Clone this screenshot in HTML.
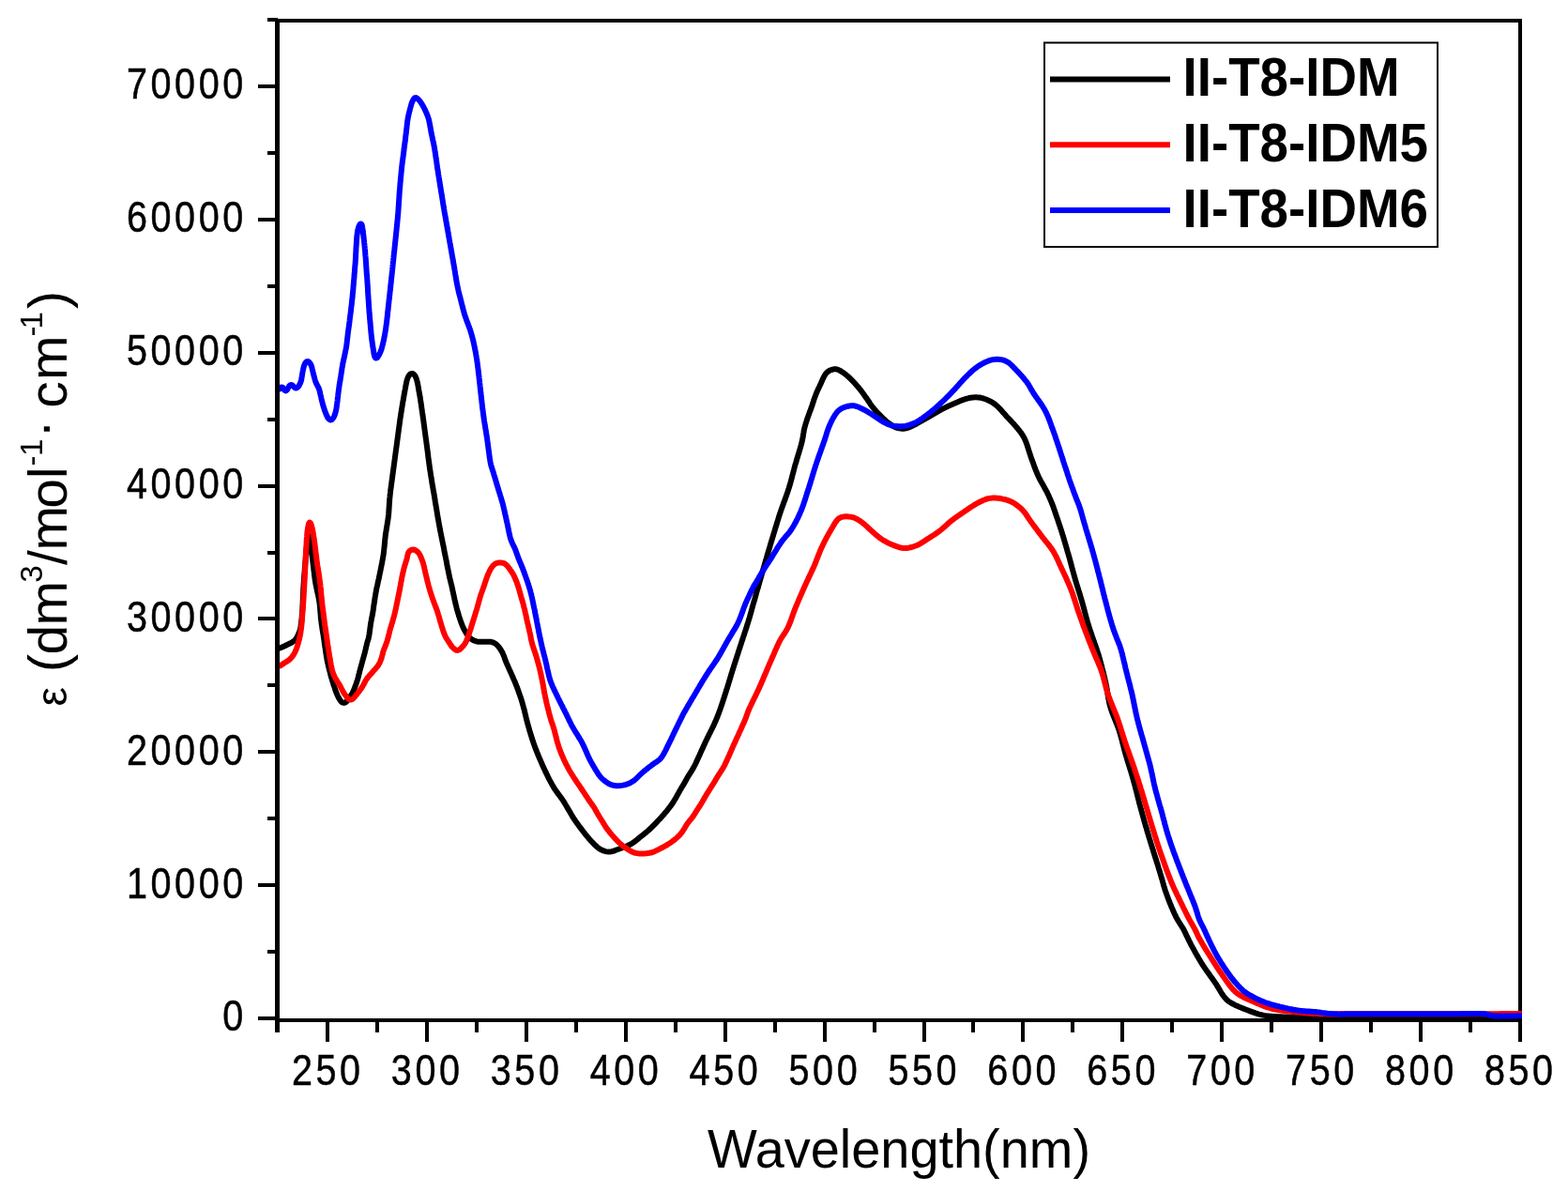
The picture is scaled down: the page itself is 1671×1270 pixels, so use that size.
<!DOCTYPE html>
<html><head><meta charset="utf-8"><style>
html,body{margin:0;padding:0;background:#fff;width:1671px;height:1270px;overflow:hidden}
svg{display:block}
</style></head><body>
<svg width="1671" height="1270" viewBox="0 0 1671 1270">
<rect width="1671" height="1270" fill="#fff"/>
<g fill="#000" shape-rendering="crispEdges">
<rect x="293.2" y="20" width="4.6" height="1079.7"/>
<rect x="293.2" y="20" width="1328.8" height="4"/>
<rect x="1618" y="20" width="4" height="1089.7"/>
<rect x="293.2" y="1085" width="1328.8" height="4.2"/>
<rect x="275.0" y="1083.0" width="20.5" height="4"/>
<rect x="285.0" y="1012.1" width="10.5" height="4"/>
<rect x="275.0" y="941.1" width="20.5" height="4"/>
<rect x="285.0" y="870.2" width="10.5" height="4"/>
<rect x="275.0" y="799.3" width="20.5" height="4"/>
<rect x="285.0" y="728.3" width="10.5" height="4"/>
<rect x="275.0" y="657.4" width="20.5" height="4"/>
<rect x="285.0" y="586.5" width="10.5" height="4"/>
<rect x="275.0" y="515.5" width="20.5" height="4"/>
<rect x="285.0" y="444.6" width="10.5" height="4"/>
<rect x="275.0" y="373.6" width="20.5" height="4"/>
<rect x="285.0" y="302.7" width="10.5" height="4"/>
<rect x="275.0" y="231.8" width="20.5" height="4"/>
<rect x="285.0" y="160.8" width="10.5" height="4"/>
<rect x="275.0" y="89.9" width="20.5" height="4"/>
<rect x="285.0" y="19.0" width="10.5" height="4"/>
<rect x="347.0" y="1087" width="4" height="22.7"/>
<rect x="400.0" y="1087" width="4" height="12.5"/>
<rect x="452.9" y="1087" width="4" height="22.7"/>
<rect x="505.9" y="1087" width="4" height="12.5"/>
<rect x="558.8" y="1087" width="4" height="22.7"/>
<rect x="611.8" y="1087" width="4" height="12.5"/>
<rect x="664.7" y="1087" width="4" height="22.7"/>
<rect x="717.7" y="1087" width="4" height="12.5"/>
<rect x="770.7" y="1087" width="4" height="22.7"/>
<rect x="823.6" y="1087" width="4" height="12.5"/>
<rect x="876.6" y="1087" width="4" height="22.7"/>
<rect x="929.5" y="1087" width="4" height="12.5"/>
<rect x="982.5" y="1087" width="4" height="22.7"/>
<rect x="1035.4" y="1087" width="4" height="12.5"/>
<rect x="1088.4" y="1087" width="4" height="22.7"/>
<rect x="1141.4" y="1087" width="4" height="12.5"/>
<rect x="1194.3" y="1087" width="4" height="22.7"/>
<rect x="1247.3" y="1087" width="4" height="12.5"/>
<rect x="1300.2" y="1087" width="4" height="22.7"/>
<rect x="1353.2" y="1087" width="4" height="12.5"/>
<rect x="1406.2" y="1087" width="4" height="22.7"/>
<rect x="1459.1" y="1087" width="4" height="12.5"/>
<rect x="1512.1" y="1087" width="4" height="22.7"/>
<rect x="1565.0" y="1087" width="4" height="12.5"/>
</g>
<defs><clipPath id="c"><rect x="297.8" y="20" width="1324.2" height="1069"/></clipPath></defs>
<g clip-path="url(#c)" fill="none" stroke-width="6" stroke-linejoin="round" stroke-linecap="butt">
<path stroke="#000" d="M297.2,690.8 298.1,690.5 299.4,690.0 300.8,689.4 302.2,688.9 303.5,688.2 304.9,687.5 306.2,686.8 307.6,686.2 308.9,685.5 310.3,684.9 311.6,684.1 312.8,683.3 314.0,682.4 314.9,681.3 315.8,680.0 316.6,678.8 317.3,677.4 317.9,676.1 318.5,674.7 319.0,673.3 319.5,671.9 319.9,670.4 320.2,669.0 320.5,667.5 320.7,666.0 320.9,664.5 321.1,663.0 321.3,661.5 321.4,660.1 321.6,658.6 321.7,657.1 321.8,655.6 322.0,654.1 322.1,652.6 322.2,651.1 322.3,649.6 322.4,648.1 322.4,646.6 322.5,645.1 322.6,643.6 322.7,642.1 322.7,640.6 322.8,639.1 322.8,637.6 322.9,636.1 323.0,634.6 323.0,633.1 323.1,631.6 323.2,630.1 323.2,628.6 323.3,627.1 323.4,625.6 323.5,624.1 323.6,622.6 323.7,621.1 323.8,619.6 323.9,618.1 324.0,616.6 324.1,615.1 324.2,613.6 324.3,612.1 324.5,610.7 324.6,609.2 324.7,607.7 324.8,606.2 324.9,604.7 325.1,603.2 325.2,601.7 325.3,600.2 325.4,598.7 325.6,597.2 325.7,595.7 325.8,594.2 325.9,592.7 326.1,591.2 326.2,589.7 326.3,588.2 326.5,586.7 326.6,585.2 326.7,583.7 326.9,582.3 327.1,580.8 327.3,579.3 327.5,577.8 327.8,576.3 328.1,574.9 328.4,573.4 328.7,572.0 329.2,571.1 329.7,571.3 330.1,572.3 330.4,573.7 330.6,575.2 330.8,576.7 330.9,578.2 331.1,579.7 331.3,581.2 331.4,582.6 331.6,584.1 331.7,585.6 331.9,587.1 332.1,588.6 332.3,590.1 332.5,591.6 332.7,593.1 332.9,594.6 333.1,596.0 333.3,597.5 333.4,599.0 333.6,600.5 333.8,602.0 334.0,603.5 334.2,605.0 334.3,606.5 334.5,608.0 334.7,609.4 334.9,610.9 335.0,612.4 335.2,613.9 335.4,615.4 335.6,616.9 335.8,618.4 336.1,619.9 336.3,621.3 336.6,622.8 336.9,624.3 337.2,625.8 337.5,627.2 337.8,628.7 338.1,630.2 338.4,631.6 338.8,633.1 339.1,634.5 339.4,636.0 339.7,637.5 339.9,639.0 340.2,640.4 340.4,641.9 340.6,643.4 340.8,644.9 340.9,646.4 341.1,647.9 341.2,649.4 341.3,650.9 341.4,652.4 341.6,653.9 341.7,655.4 341.8,656.9 341.9,658.4 342.1,659.8 342.3,661.3 342.5,662.8 342.6,664.3 342.9,665.8 343.1,667.3 343.3,668.8 343.5,670.2 343.7,671.7 344.0,673.2 344.2,674.7 344.5,676.2 344.7,677.7 344.9,679.1 345.2,680.6 345.4,682.1 345.6,683.6 345.8,685.1 346.0,686.6 346.2,688.0 346.4,689.5 346.7,691.0 346.9,692.5 347.1,694.0 347.3,695.5 347.5,696.9 347.8,698.4 348.0,699.9 348.3,701.4 348.5,702.9 348.8,704.3 349.1,705.8 349.5,707.3 349.8,708.7 350.1,710.2 350.5,711.6 350.8,713.1 351.2,714.6 351.6,716.0 352.0,717.5 352.3,718.9 352.7,720.4 353.1,721.8 353.6,723.2 354.0,724.7 354.4,726.1 354.9,727.5 355.3,729.0 355.8,730.4 356.3,731.8 356.8,733.2 357.2,734.7 357.7,736.1 358.2,737.5 358.8,738.9 359.4,740.3 360.0,741.6 360.7,743.0 361.4,744.3 362.2,745.6 363.0,746.8 364.0,747.9 365.2,748.6 366.5,748.9 367.9,748.6 369.0,747.8 370.0,746.7 370.8,745.4 371.6,744.2 372.5,742.9 373.4,741.7 374.3,740.5 375.1,739.3 375.8,738.0 376.5,736.6 377.1,735.2 377.6,733.8 378.1,732.4 378.6,731.0 379.2,729.6 379.7,728.2 380.2,726.8 380.6,725.4 381.1,723.9 381.5,722.5 381.9,721.0 382.2,719.6 382.6,718.1 383.0,716.7 383.3,715.2 383.7,713.8 384.1,712.3 384.5,710.9 384.9,709.4 385.3,708.0 385.7,706.5 386.1,705.1 386.5,703.6 386.9,702.2 387.3,700.8 387.7,699.3 388.1,697.9 388.5,696.4 388.9,695.0 389.2,693.5 389.6,692.0 389.9,690.6 390.2,689.1 390.6,687.7 390.9,686.2 391.3,684.8 391.7,683.3 392.2,681.9 392.6,680.4 392.9,679.0 393.2,677.5 393.5,676.0 393.7,674.5 393.9,673.1 394.1,671.6 394.3,670.1 394.5,668.6 394.7,667.1 394.9,665.6 395.1,664.1 395.4,662.7 395.7,661.2 395.9,659.7 396.2,658.2 396.5,656.8 396.8,655.3 397.1,653.8 397.3,652.3 397.6,650.9 397.8,649.4 398.0,647.9 398.2,646.4 398.4,644.9 398.6,643.4 398.9,642.0 399.1,640.5 399.3,639.0 399.5,637.5 399.7,636.0 400.0,634.5 400.2,633.1 400.5,631.6 400.8,630.1 401.0,628.6 401.3,627.2 401.6,625.7 402.0,624.2 402.3,622.8 402.6,621.3 402.9,619.8 403.2,618.4 403.6,616.9 403.9,615.4 404.2,614.0 404.5,612.5 404.8,611.0 405.1,609.6 405.4,608.1 405.7,606.6 406.0,605.2 406.3,603.7 406.6,602.2 406.9,600.7 407.2,599.3 407.4,597.8 407.7,596.3 408.0,594.8 408.2,593.4 408.5,591.9 408.7,590.4 408.9,588.9 409.1,587.4 409.2,585.9 409.4,584.4 409.5,583.0 409.7,581.5 409.8,580.0 410.0,578.5 410.1,577.0 410.2,575.5 410.4,574.0 410.6,572.5 410.7,571.0 410.9,569.5 411.1,568.0 411.4,566.6 411.6,565.1 411.8,563.6 412.1,562.1 412.3,560.6 412.6,559.2 412.8,557.7 413.0,556.2 413.3,554.7 413.5,553.2 413.7,551.7 413.9,550.2 414.0,548.8 414.2,547.3 414.3,545.8 414.4,544.3 414.5,542.8 414.6,541.3 414.7,539.8 414.8,538.3 414.9,536.8 415.0,535.3 415.1,533.8 415.2,532.3 415.3,530.8 415.5,529.3 415.6,527.8 415.8,526.3 416.0,524.8 416.1,523.3 416.3,521.9 416.5,520.4 416.7,518.9 416.9,517.4 417.1,515.9 417.3,514.4 417.5,512.9 417.7,511.5 417.9,510.0 418.1,508.5 418.3,507.0 418.5,505.5 418.7,504.0 418.9,502.5 419.1,501.1 419.3,499.6 419.5,498.1 419.7,496.6 419.9,495.1 420.1,493.6 420.3,492.1 420.5,490.6 420.7,489.2 420.9,487.7 421.1,486.2 421.3,484.7 421.5,483.2 421.7,481.7 421.9,480.2 422.1,478.8 422.3,477.3 422.5,475.8 422.7,474.3 422.9,472.8 423.1,471.3 423.3,469.8 423.5,468.3 423.7,466.9 423.9,465.4 424.1,463.9 424.3,462.4 424.5,460.9 424.7,459.4 424.9,457.9 425.1,456.4 425.3,455.0 425.5,453.5 425.7,452.0 425.9,450.5 426.1,449.0 426.3,447.5 426.5,446.0 426.7,444.6 427.0,443.1 427.2,441.6 427.4,440.1 427.7,438.6 427.9,437.2 428.1,435.7 428.4,434.2 428.6,432.7 428.9,431.2 429.1,429.7 429.3,428.3 429.6,426.8 429.9,425.3 430.1,423.8 430.4,422.4 430.6,420.9 430.9,419.4 431.2,417.9 431.4,416.5 431.7,415.0 432.0,413.5 432.2,412.0 432.5,410.6 432.8,409.1 433.1,407.6 433.4,406.1 433.8,404.7 434.3,403.3 434.8,401.9 435.5,400.6 436.4,399.4 437.4,398.4 438.7,398.0 440.0,398.1 441.1,398.9 442.1,400.0 442.8,401.3 443.4,402.7 443.9,404.1 444.3,405.5 444.7,407.0 445.0,408.4 445.3,409.9 445.6,411.4 445.8,412.8 446.1,414.3 446.3,415.8 446.6,417.3 446.9,418.8 447.1,420.2 447.4,421.7 447.6,423.2 447.9,424.7 448.1,426.2 448.3,427.6 448.5,429.1 448.8,430.6 449.0,432.1 449.2,433.6 449.4,435.1 449.6,436.5 449.8,438.0 450.0,439.5 450.3,441.0 450.5,442.5 450.7,444.0 450.9,445.5 451.1,446.9 451.3,448.4 451.5,449.9 451.7,451.4 451.9,452.9 452.1,454.4 452.3,455.9 452.5,457.3 452.7,458.8 452.9,460.3 453.1,461.8 453.3,463.3 453.5,464.8 453.7,466.3 453.9,467.8 454.1,469.2 454.3,470.7 454.5,472.2 454.7,473.7 454.9,475.2 455.1,476.7 455.3,478.2 455.5,479.6 455.7,481.1 455.9,482.6 456.1,484.1 456.2,485.6 456.4,487.1 456.6,488.6 456.8,490.1 457.0,491.5 457.2,493.0 457.4,494.5 457.6,496.0 457.8,497.5 458.0,499.0 458.2,500.5 458.5,501.9 458.7,503.4 458.9,504.9 459.1,506.4 459.4,507.9 459.6,509.4 459.9,510.8 460.1,512.3 460.3,513.8 460.6,515.3 460.8,516.8 461.1,518.2 461.3,519.7 461.6,521.2 461.8,522.7 462.1,524.2 462.4,525.6 462.6,527.1 462.9,528.6 463.1,530.1 463.4,531.5 463.6,533.0 463.8,534.5 464.1,536.0 464.3,537.5 464.6,538.9 464.8,540.4 465.1,541.9 465.3,543.4 465.6,544.9 465.8,546.3 466.0,547.8 466.3,549.3 466.5,550.8 466.8,552.3 467.1,553.7 467.3,555.2 467.6,556.7 467.8,558.2 468.1,559.6 468.4,561.1 468.7,562.6 468.9,564.1 469.2,565.5 469.5,567.0 469.8,568.5 470.1,570.0 470.4,571.4 470.7,572.9 471.0,574.4 471.3,575.8 471.6,577.3 471.9,578.8 472.2,580.3 472.5,581.7 472.8,583.2 473.1,584.7 473.3,586.1 473.6,587.6 473.9,589.1 474.2,590.5 474.5,592.0 474.8,593.5 475.1,595.0 475.4,596.4 475.7,597.9 476.0,599.4 476.2,600.8 476.5,602.3 476.8,603.8 477.1,605.3 477.4,606.7 477.7,608.2 478.0,609.7 478.3,611.1 478.6,612.6 478.9,614.1 479.2,615.5 479.6,617.0 479.9,618.5 480.3,619.9 480.6,621.4 481.0,622.8 481.4,624.3 481.7,625.8 482.0,627.2 482.3,628.7 482.6,630.2 482.9,631.6 483.3,633.1 483.6,634.6 483.9,636.0 484.2,637.5 484.5,639.0 484.9,640.4 485.2,641.9 485.5,643.3 485.9,644.8 486.3,646.3 486.6,647.7 487.0,649.2 487.4,650.6 487.8,652.0 488.3,653.5 488.7,654.9 489.1,656.4 489.6,657.8 490.0,659.2 490.5,660.6 491.0,662.0 491.5,663.5 492.1,664.9 492.6,666.2 493.2,667.6 493.8,669.0 494.5,670.3 495.2,671.7 495.9,673.0 496.7,674.3 497.5,675.5 498.3,676.8 499.2,678.0 500.2,679.1 501.3,680.1 502.5,681.0 503.7,681.8 505.1,682.5 506.5,683.0 507.9,683.4 509.4,683.7 510.9,683.8 512.4,683.8 513.9,683.8 515.3,683.8 516.8,683.8 518.3,683.8 519.8,683.7 521.3,683.7 522.8,683.8 524.3,684.1 525.7,684.6 527.0,685.2 528.3,686.0 529.4,687.0 530.5,688.1 531.5,689.2 532.4,690.4 533.2,691.6 534.0,692.9 534.8,694.2 535.5,695.5 536.1,696.9 536.7,698.2 537.2,699.6 537.7,701.0 538.2,702.5 538.8,703.9 539.3,705.3 539.9,706.7 540.5,708.0 541.1,709.4 541.7,710.8 542.3,712.1 542.9,713.5 543.6,714.9 544.2,716.2 544.8,717.6 545.4,719.0 546.0,720.3 546.6,721.7 547.2,723.1 547.8,724.5 548.4,725.8 549.0,727.2 549.5,728.6 550.1,730.0 550.6,731.4 551.2,732.8 551.7,734.2 552.2,735.6 552.7,737.0 553.2,738.4 553.7,739.9 554.2,741.3 554.7,742.7 555.2,744.1 555.6,745.6 556.1,747.0 556.5,748.4 556.9,749.9 557.3,751.3 557.7,752.7 558.1,754.2 558.5,755.6 558.9,757.1 559.2,758.6 559.6,760.0 559.9,761.5 560.3,762.9 560.6,764.4 561.0,765.9 561.3,767.3 561.7,768.8 562.1,770.2 562.5,771.7 562.9,773.1 563.3,774.5 563.7,776.0 564.1,777.4 564.5,778.9 565.0,780.3 565.4,781.7 565.8,783.2 566.3,784.6 566.7,786.0 567.2,787.5 567.7,788.9 568.1,790.3 568.6,791.7 569.1,793.1 569.6,794.6 570.2,796.0 570.7,797.4 571.2,798.8 571.8,800.2 572.3,801.6 572.9,803.0 573.4,804.3 574.0,805.7 574.6,807.1 575.2,808.5 575.8,809.9 576.4,811.3 577.0,812.6 577.6,814.0 578.2,815.4 578.8,816.7 579.4,818.1 580.1,819.5 580.7,820.8 581.3,822.2 582.0,823.5 582.6,824.9 583.3,826.2 583.9,827.6 584.6,828.9 585.3,830.3 586.0,831.6 586.7,832.9 587.4,834.2 588.1,835.5 588.9,836.8 589.6,838.1 590.4,839.4 591.2,840.7 592.1,841.9 592.9,843.1 593.8,844.4 594.7,845.6 595.6,846.8 596.5,848.0 597.4,849.2 598.3,850.4 599.1,851.6 600.0,852.9 600.8,854.1 601.6,855.4 602.3,856.7 603.1,858.0 603.9,859.3 604.6,860.6 605.4,861.9 606.1,863.2 606.9,864.4 607.7,865.7 608.4,867.0 609.2,868.3 609.9,869.6 610.7,870.9 611.5,872.2 612.4,873.4 613.2,874.6 614.1,875.9 614.9,877.1 615.8,878.3 616.7,879.5 617.6,880.7 618.5,881.9 619.4,883.1 620.3,884.3 621.2,885.5 622.1,886.7 623.1,887.9 624.0,889.1 624.9,890.2 625.9,891.4 626.9,892.5 627.8,893.7 628.8,894.8 629.8,895.9 630.9,897.0 631.9,898.1 632.9,899.2 634.0,900.2 635.1,901.3 636.2,902.3 637.3,903.2 638.5,904.1 639.8,904.9 641.1,905.6 642.5,906.2 643.9,906.7 645.4,907.1 646.8,907.4 648.3,907.6 649.8,907.6 651.3,907.4 652.7,907.0 654.1,906.6 655.5,906.1 656.9,905.5 658.4,905.0 659.8,904.5 661.2,904.0 662.6,903.5 664.0,903.0 665.4,902.4 666.8,901.9 668.2,901.3 669.5,900.7 670.9,900.0 672.2,899.3 673.5,898.6 674.8,897.8 676.0,896.9 677.2,896.0 678.4,895.1 679.5,894.1 680.7,893.1 681.8,892.2 683.0,891.3 684.2,890.3 685.4,889.4 686.5,888.5 687.7,887.5 688.9,886.6 690.0,885.6 691.1,884.6 692.3,883.6 693.3,882.6 694.4,881.5 695.5,880.5 696.5,879.4 697.6,878.3 698.6,877.3 699.7,876.2 700.7,875.1 701.7,874.0 702.8,872.9 703.8,871.8 704.8,870.7 705.8,869.6 706.8,868.5 707.8,867.3 708.7,866.2 709.7,865.1 710.7,863.9 711.6,862.7 712.5,861.5 713.4,860.4 714.4,859.2 715.2,858.0 716.1,856.7 716.9,855.5 717.8,854.2 718.5,852.9 719.3,851.7 720.1,850.4 720.8,849.1 721.5,847.7 722.3,846.4 723.0,845.1 723.7,843.8 724.4,842.5 725.2,841.2 726.0,839.9 726.7,838.6 727.5,837.4 728.3,836.1 729.1,834.8 729.8,833.5 730.5,832.2 731.3,830.9 732.0,829.5 732.7,828.2 733.5,826.9 734.3,825.7 735.1,824.4 735.9,823.1 736.7,821.9 737.5,820.6 738.3,819.3 739.0,818.0 739.7,816.7 740.4,815.4 741.1,814.0 741.7,812.7 742.3,811.3 743.0,809.9 743.6,808.6 744.2,807.2 744.8,805.9 745.5,804.5 746.1,803.1 746.7,801.8 747.3,800.4 747.9,799.0 748.6,797.7 749.2,796.3 749.8,794.9 750.4,793.6 751.1,792.2 751.7,790.8 752.3,789.5 753.0,788.1 753.6,786.8 754.3,785.4 755.0,784.1 755.6,782.7 756.3,781.4 757.0,780.1 757.6,778.7 758.3,777.4 759.0,776.0 759.6,774.7 760.3,773.3 760.9,772.0 761.5,770.6 762.1,769.2 762.8,767.9 763.3,766.5 763.9,765.1 764.5,763.7 765.0,762.3 765.6,760.9 766.1,759.5 766.6,758.1 767.1,756.7 767.6,755.3 768.1,753.9 768.6,752.4 769.1,751.0 769.6,749.6 770.0,748.2 770.5,746.8 771.0,745.3 771.4,743.9 771.9,742.5 772.4,741.0 772.8,739.6 773.3,738.2 773.7,736.8 774.2,735.3 774.6,733.9 775.1,732.5 775.5,731.0 776.0,729.6 776.4,728.2 776.8,726.7 777.3,725.3 777.7,723.9 778.1,722.4 778.6,721.0 779.0,719.6 779.4,718.1 779.9,716.7 780.3,715.2 780.8,713.8 781.2,712.4 781.7,711.0 782.1,709.5 782.6,708.1 783.0,706.7 783.5,705.2 784.0,703.8 784.4,702.4 784.9,701.0 785.3,699.5 785.8,698.1 786.3,696.7 786.7,695.2 787.2,693.8 787.6,692.4 788.1,691.0 788.6,689.5 789.0,688.1 789.5,686.7 790.0,685.3 790.4,683.8 790.9,682.4 791.4,681.0 791.8,679.6 792.3,678.1 792.8,676.7 793.3,675.3 793.7,673.9 794.2,672.4 794.7,671.0 795.1,669.6 795.6,668.2 796.0,666.7 796.5,665.3 796.9,663.9 797.4,662.4 797.8,661.0 798.2,659.6 798.7,658.1 799.1,656.7 799.5,655.2 799.9,653.8 800.3,652.4 800.7,650.9 801.1,649.5 801.5,648.0 801.9,646.6 802.3,645.1 802.7,643.7 803.1,642.2 803.6,640.8 804.0,639.4 804.4,637.9 804.8,636.5 805.2,635.0 805.6,633.6 806.0,632.1 806.4,630.7 806.8,629.3 807.2,627.8 807.7,626.4 808.1,624.9 808.5,623.5 808.9,622.0 809.3,620.6 809.7,619.2 810.1,617.7 810.6,616.3 811.0,614.8 811.4,613.4 811.8,612.0 812.2,610.5 812.6,609.1 813.0,607.6 813.4,606.2 813.9,604.7 814.3,603.3 814.7,601.9 815.1,600.4 815.5,599.0 816.0,597.5 816.4,596.1 816.8,594.7 817.2,593.2 817.6,591.8 818.1,590.3 818.5,588.9 818.9,587.5 819.3,586.0 819.8,584.6 820.2,583.2 820.6,581.7 821.0,580.3 821.5,578.8 821.9,577.4 822.3,576.0 822.8,574.5 823.2,573.1 823.6,571.7 824.1,570.2 824.5,568.8 824.9,567.4 825.4,565.9 825.8,564.5 826.2,563.0 826.7,561.6 827.1,560.2 827.6,558.7 828.0,557.3 828.4,555.9 828.9,554.4 829.3,553.0 829.8,551.6 830.2,550.1 830.7,548.7 831.1,547.3 831.6,545.9 832.1,544.4 832.6,543.0 833.1,541.6 833.6,540.2 834.1,538.8 834.6,537.4 835.1,536.0 835.6,534.6 836.2,533.2 836.7,531.7 837.2,530.3 837.7,528.9 838.2,527.5 838.7,526.1 839.2,524.7 839.7,523.3 840.1,521.8 840.6,520.4 841.0,519.0 841.5,517.5 841.9,516.1 842.3,514.7 842.7,513.2 843.1,511.8 843.5,510.3 843.9,508.9 844.2,507.4 844.6,506.0 845.0,504.5 845.4,503.1 845.8,501.6 846.2,500.2 846.5,498.7 846.9,497.3 847.3,495.8 847.7,494.4 848.2,492.9 848.6,491.5 849.0,490.1 849.4,488.6 849.9,487.2 850.3,485.7 850.7,484.3 851.2,482.9 851.6,481.4 852.0,480.0 852.5,478.6 852.9,477.1 853.3,475.7 853.7,474.2 854.1,472.8 854.5,471.3 854.8,469.9 855.1,468.4 855.4,466.9 855.7,465.5 855.9,464.0 856.1,462.5 856.4,461.0 856.6,459.5 856.9,458.1 857.2,456.6 857.6,455.1 858.0,453.7 858.4,452.3 858.8,450.8 859.3,449.4 859.7,448.0 860.2,446.5 860.7,445.1 861.2,443.7 861.7,442.3 862.2,440.9 862.7,439.5 863.2,438.1 863.8,436.7 864.3,435.2 864.8,433.8 865.3,432.4 865.8,431.0 866.2,429.6 866.7,428.2 867.2,426.7 867.6,425.3 868.1,423.9 868.6,422.5 869.2,421.1 869.7,419.7 870.3,418.3 870.9,416.9 871.5,415.5 872.1,414.2 872.8,412.8 873.4,411.5 874.0,410.1 874.7,408.8 875.3,407.4 875.9,406.0 876.5,404.6 877.1,403.3 877.8,401.9 878.5,400.6 879.2,399.3 880.1,398.1 881.1,397.0 882.2,396.0 883.4,395.2 884.7,394.5 886.1,394.0 887.6,393.6 889.1,393.3 890.5,393.3 892.0,393.5 893.4,394.0 894.7,394.6 896.0,395.4 897.3,396.2 898.5,397.0 899.8,397.9 901.0,398.8 902.1,399.7 903.3,400.7 904.4,401.7 905.5,402.7 906.6,403.8 907.6,404.8 908.7,405.9 909.7,407.0 910.7,408.1 911.7,409.2 912.7,410.3 913.7,411.5 914.7,412.6 915.6,413.8 916.6,414.9 917.5,416.1 918.4,417.3 919.3,418.5 920.2,419.7 921.0,420.9 921.9,422.2 922.8,423.4 923.7,424.6 924.5,425.8 925.3,427.1 926.2,428.3 927.0,429.6 927.8,430.8 928.7,432.1 929.6,433.3 930.5,434.4 931.5,435.6 932.5,436.7 933.5,437.9 934.5,439.0 935.5,440.0 936.5,441.1 937.6,442.2 938.7,443.3 939.7,444.3 940.8,445.4 941.9,446.4 943.0,447.4 944.1,448.4 945.2,449.4 946.4,450.3 947.6,451.2 948.8,452.1 950.1,452.9 951.3,453.7 952.7,454.4 954.0,455.1 955.4,455.6 956.9,456.0 958.3,456.4 959.8,456.6 961.3,456.7 962.8,456.7 964.3,456.5 965.7,456.3 967.2,455.9 968.6,455.4 970.0,454.8 971.3,454.2 972.7,453.6 974.0,452.9 975.3,452.2 976.7,451.5 978.0,450.7 979.3,450.0 980.6,449.2 981.9,448.5 983.2,447.8 984.5,447.0 985.8,446.3 987.1,445.6 988.4,444.9 989.7,444.1 991.0,443.4 992.3,442.6 993.6,441.8 994.9,441.1 996.2,440.3 997.5,439.6 998.8,438.8 1000.1,438.1 1001.4,437.3 1002.7,436.6 1004.1,435.9 1005.4,435.2 1006.7,434.6 1008.1,433.9 1009.4,433.3 1010.8,432.6 1012.2,432.0 1013.5,431.4 1014.9,430.8 1016.3,430.2 1017.7,429.6 1019.0,429.0 1020.4,428.4 1021.8,427.8 1023.2,427.2 1024.6,426.7 1026.0,426.1 1027.4,425.6 1028.8,425.2 1030.2,424.7 1031.7,424.4 1033.1,424.0 1034.6,423.7 1036.1,423.5 1037.6,423.4 1039.1,423.3 1040.6,423.3 1042.1,423.4 1043.6,423.5 1045.0,423.8 1046.5,424.1 1048.0,424.5 1049.4,425.0 1050.8,425.5 1052.2,426.1 1053.5,426.7 1054.9,427.3 1056.2,428.0 1057.5,428.8 1058.8,429.6 1060.0,430.5 1061.2,431.4 1062.3,432.4 1063.4,433.4 1064.5,434.4 1065.5,435.5 1066.5,436.6 1067.5,437.7 1068.5,438.9 1069.5,440.0 1070.5,441.1 1071.5,442.2 1072.5,443.4 1073.5,444.5 1074.5,445.5 1075.6,446.6 1076.6,447.7 1077.6,448.8 1078.6,449.9 1079.7,451.0 1080.7,452.1 1081.7,453.3 1082.7,454.4 1083.6,455.5 1084.6,456.7 1085.5,457.8 1086.5,459.0 1087.4,460.2 1088.3,461.4 1089.1,462.6 1089.9,463.9 1090.7,465.2 1091.4,466.5 1092.1,467.9 1092.7,469.2 1093.2,470.6 1093.8,472.0 1094.3,473.4 1094.8,474.9 1095.2,476.3 1095.7,477.7 1096.1,479.1 1096.6,480.6 1097.0,482.0 1097.5,483.4 1098.0,484.9 1098.4,486.3 1098.9,487.7 1099.4,489.1 1099.9,490.5 1100.5,491.9 1101.0,493.3 1101.5,494.7 1102.0,496.2 1102.5,497.6 1103.0,499.0 1103.6,500.4 1104.1,501.8 1104.7,503.1 1105.3,504.5 1105.9,505.9 1106.5,507.3 1107.1,508.6 1107.8,510.0 1108.5,511.3 1109.2,512.6 1109.9,513.9 1110.7,515.2 1111.4,516.5 1112.2,517.8 1112.9,519.2 1113.6,520.5 1114.3,521.8 1115.1,523.1 1115.8,524.4 1116.4,525.8 1117.1,527.1 1117.7,528.5 1118.3,529.9 1118.9,531.2 1119.5,532.6 1120.1,534.0 1120.7,535.4 1121.2,536.8 1121.8,538.2 1122.3,539.6 1122.8,541.0 1123.3,542.4 1123.8,543.8 1124.3,545.2 1124.7,546.7 1125.2,548.1 1125.7,549.5 1126.2,550.9 1126.7,552.3 1127.2,553.7 1127.7,555.2 1128.1,556.6 1128.6,558.0 1129.1,559.4 1129.6,560.8 1130.0,562.3 1130.5,563.7 1131.0,565.1 1131.4,566.6 1131.9,568.0 1132.3,569.4 1132.8,570.9 1133.2,572.3 1133.6,573.7 1134.1,575.2 1134.5,576.6 1134.9,578.0 1135.3,579.5 1135.8,580.9 1136.2,582.4 1136.6,583.8 1137.0,585.2 1137.4,586.7 1137.8,588.1 1138.3,589.6 1138.7,591.0 1139.1,592.5 1139.5,593.9 1139.9,595.3 1140.3,596.8 1140.7,598.2 1141.1,599.7 1141.4,601.1 1141.8,602.6 1142.2,604.0 1142.6,605.5 1143.0,606.9 1143.4,608.4 1143.8,609.8 1144.2,611.3 1144.6,612.7 1145.0,614.2 1145.4,615.6 1145.8,617.0 1146.2,618.5 1146.7,619.9 1147.1,621.4 1147.5,622.8 1148.0,624.2 1148.4,625.7 1148.9,627.1 1149.3,628.5 1149.7,630.0 1150.2,631.4 1150.6,632.8 1151.1,634.3 1151.5,635.7 1151.9,637.1 1152.3,638.6 1152.8,640.0 1153.2,641.5 1153.6,642.9 1154.0,644.3 1154.4,645.8 1154.8,647.2 1155.2,648.7 1155.5,650.1 1155.9,651.6 1156.3,653.0 1156.7,654.5 1157.1,655.9 1157.5,657.4 1157.9,658.8 1158.3,660.3 1158.7,661.7 1159.1,663.2 1159.5,664.6 1160.0,666.0 1160.4,667.5 1160.9,668.9 1161.3,670.3 1161.8,671.7 1162.3,673.2 1162.8,674.6 1163.3,676.0 1163.7,677.4 1164.2,678.8 1164.7,680.3 1165.2,681.7 1165.7,683.1 1166.2,684.5 1166.7,685.9 1167.2,687.3 1167.7,688.7 1168.2,690.2 1168.7,691.6 1169.1,693.0 1169.6,694.4 1170.1,695.9 1170.5,697.3 1171.0,698.7 1171.4,700.2 1171.8,701.6 1172.2,703.1 1172.6,704.5 1173.0,705.9 1173.4,707.4 1173.8,708.8 1174.2,710.3 1174.5,711.7 1174.9,713.2 1175.3,714.7 1175.6,716.1 1176.0,717.6 1176.4,719.0 1176.7,720.5 1177.1,721.9 1177.4,723.4 1177.7,724.9 1178.1,726.3 1178.4,727.8 1178.7,729.3 1179.0,730.7 1179.3,732.2 1179.5,733.7 1179.8,735.2 1180.0,736.6 1180.3,738.1 1180.5,739.6 1180.7,741.1 1181.0,742.6 1181.2,744.0 1181.5,745.5 1181.8,747.0 1182.1,748.5 1182.4,749.9 1182.8,751.4 1183.2,752.8 1183.6,754.3 1184.0,755.7 1184.5,757.1 1185.0,758.5 1185.5,759.9 1186.1,761.3 1186.6,762.7 1187.2,764.1 1187.7,765.5 1188.3,766.9 1188.9,768.3 1189.4,769.7 1190.0,771.1 1190.5,772.5 1191.1,773.9 1191.6,775.3 1192.1,776.7 1192.6,778.1 1193.0,779.6 1193.5,781.0 1193.9,782.4 1194.3,783.9 1194.7,785.3 1195.1,786.8 1195.5,788.2 1195.9,789.7 1196.2,791.1 1196.6,792.6 1197.0,794.0 1197.4,795.5 1197.7,796.9 1198.1,798.4 1198.5,799.8 1198.9,801.3 1199.3,802.7 1199.7,804.2 1200.1,805.6 1200.6,807.0 1201.0,808.5 1201.4,809.9 1201.9,811.3 1202.3,812.8 1202.8,814.2 1203.2,815.6 1203.7,817.1 1204.1,818.5 1204.5,819.9 1205.0,821.4 1205.4,822.8 1205.9,824.2 1206.3,825.7 1206.7,827.1 1207.1,828.6 1207.5,830.0 1207.9,831.4 1208.3,832.9 1208.7,834.3 1209.1,835.8 1209.5,837.2 1209.9,838.7 1210.2,840.1 1210.6,841.6 1211.0,843.1 1211.4,844.5 1211.7,846.0 1212.1,847.4 1212.5,848.9 1212.8,850.3 1213.2,851.8 1213.6,853.2 1213.9,854.7 1214.3,856.1 1214.7,857.6 1215.1,859.0 1215.5,860.5 1215.9,861.9 1216.3,863.4 1216.7,864.8 1217.1,866.3 1217.5,867.7 1217.9,869.2 1218.3,870.6 1218.7,872.0 1219.1,873.5 1219.5,874.9 1219.9,876.4 1220.3,877.8 1220.7,879.3 1221.1,880.7 1221.6,882.1 1222.0,883.6 1222.4,885.0 1222.8,886.5 1223.3,887.9 1223.7,889.3 1224.1,890.8 1224.6,892.2 1225.0,893.6 1225.5,895.1 1225.9,896.5 1226.3,897.9 1226.8,899.4 1227.2,900.8 1227.7,902.2 1228.1,903.7 1228.6,905.1 1229.0,906.5 1229.4,908.0 1229.9,909.4 1230.3,910.8 1230.8,912.3 1231.2,913.7 1231.7,915.1 1232.2,916.5 1232.6,918.0 1233.1,919.4 1233.5,920.8 1234.0,922.3 1234.4,923.7 1234.8,925.1 1235.3,926.6 1235.7,928.0 1236.2,929.4 1236.6,930.9 1237.0,932.3 1237.4,933.8 1237.8,935.2 1238.3,936.6 1238.7,938.1 1239.1,939.5 1239.5,941.0 1239.9,942.4 1240.3,943.9 1240.7,945.3 1241.2,946.7 1241.6,948.2 1242.1,949.6 1242.6,951.0 1243.1,952.4 1243.6,953.8 1244.1,955.2 1244.6,956.6 1245.1,958.0 1245.7,959.4 1246.2,960.8 1246.8,962.2 1247.4,963.6 1247.9,965.0 1248.5,966.4 1249.1,967.8 1249.7,969.1 1250.3,970.5 1250.9,971.9 1251.5,973.3 1252.2,974.6 1252.8,976.0 1253.5,977.3 1254.2,978.6 1254.9,979.9 1255.7,981.2 1256.5,982.5 1257.3,983.8 1258.1,985.0 1258.9,986.3 1259.7,987.5 1260.5,988.8 1261.3,990.1 1262.0,991.5 1262.6,992.8 1263.3,994.2 1263.9,995.5 1264.5,996.9 1265.2,998.2 1265.9,999.6 1266.5,1000.9 1267.2,1002.3 1267.9,1003.6 1268.5,1004.9 1269.2,1006.3 1269.9,1007.6 1270.6,1008.9 1271.3,1010.2 1272.1,1011.6 1272.8,1012.9 1273.5,1014.2 1274.2,1015.5 1275.0,1016.8 1275.7,1018.1 1276.5,1019.4 1277.2,1020.7 1278.0,1022.0 1278.8,1023.3 1279.5,1024.6 1280.3,1025.8 1281.1,1027.1 1281.9,1028.4 1282.7,1029.6 1283.6,1030.9 1284.4,1032.1 1285.3,1033.4 1286.1,1034.6 1287.0,1035.8 1287.9,1037.0 1288.7,1038.2 1289.6,1039.5 1290.5,1040.7 1291.4,1041.9 1292.2,1043.1 1293.1,1044.3 1294.0,1045.6 1294.8,1046.8 1295.7,1048.0 1296.5,1049.3 1297.3,1050.6 1298.1,1051.9 1298.8,1053.1 1299.6,1054.4 1300.3,1055.7 1301.1,1057.0 1301.9,1058.3 1302.7,1059.5 1303.6,1060.8 1304.5,1062.0 1305.4,1063.1 1306.4,1064.2 1307.5,1065.3 1308.6,1066.3 1309.8,1067.2 1311.1,1068.0 1312.3,1068.8 1313.7,1069.5 1315.0,1070.2 1316.3,1070.9 1317.7,1071.5 1319.1,1072.1 1320.5,1072.7 1321.8,1073.2 1323.2,1073.8 1324.6,1074.3 1326.0,1074.9 1327.4,1075.5 1328.8,1076.0 1330.2,1076.6 1331.6,1077.2 1333.0,1077.7 1334.4,1078.2 1335.8,1078.7 1337.2,1079.2 1338.6,1079.7 1340.1,1080.1 1341.5,1080.6 1343.0,1080.9 1344.4,1081.3 1345.9,1081.6 1347.4,1081.9 1348.8,1082.1 1350.3,1082.4 1351.8,1082.5 1353.3,1082.7 1354.8,1082.8 1356.3,1082.9 1357.8,1083.0 1359.3,1083.1 1360.8,1083.2 1362.3,1083.2 1363.8,1083.3 1365.3,1083.3 1366.8,1083.4 1368.3,1083.4 1369.8,1083.5 1371.3,1083.6 1372.8,1083.6 1374.3,1083.7 1375.8,1083.7 1377.3,1083.7 1378.8,1083.8 1380.3,1083.8 1381.8,1083.8 1383.3,1083.9 1384.8,1083.9 1386.3,1083.9 1387.8,1083.9 1389.3,1083.9 1390.8,1083.9 1392.3,1083.9 1393.8,1084.0 1395.3,1084.0 1396.8,1084.0 1398.3,1084.0 1399.8,1084.0 1401.3,1084.0 1402.8,1084.0 1404.3,1084.0 1405.8,1084.0 1407.3,1084.0 1408.8,1084.0 1410.3,1084.0 1411.8,1084.1 1413.3,1084.1 1414.8,1084.1 1416.3,1084.1 1417.8,1084.1 1419.3,1084.1 1420.8,1084.1 1422.3,1084.0 1423.8,1084.0 1425.3,1084.0 1426.8,1084.0 1428.3,1084.0 1429.8,1084.0 1431.3,1084.0 1432.8,1084.0 1434.3,1084.0 1435.8,1084.0 1437.3,1084.0 1438.8,1084.0 1440.3,1084.0 1441.8,1084.0 1443.3,1084.0 1444.8,1084.0 1446.3,1084.0 1447.8,1084.0 1449.3,1084.0 1450.8,1084.0 1452.3,1084.0 1453.8,1084.0 1455.3,1084.0 1456.8,1084.0 1458.3,1084.0 1459.8,1084.0 1461.3,1084.0 1462.8,1084.0 1464.3,1084.0 1465.8,1084.0 1467.3,1084.0 1468.8,1084.0 1470.3,1084.0 1471.8,1084.0 1473.3,1084.0 1474.8,1084.0 1476.3,1084.0 1477.8,1084.0 1479.3,1084.0 1480.8,1084.0 1482.3,1084.0 1483.8,1084.0 1485.3,1084.0 1486.8,1084.0 1488.3,1084.0 1489.8,1084.0 1491.3,1084.0 1492.8,1084.0 1494.3,1084.0 1495.8,1084.0 1497.3,1084.0 1498.8,1084.0 1500.3,1084.0 1501.8,1084.0 1503.3,1084.0 1504.8,1084.0 1506.3,1084.0 1507.8,1084.0 1509.3,1084.0 1510.8,1084.0 1512.3,1084.0 1513.8,1084.0 1515.3,1084.0 1516.8,1084.0 1518.3,1084.0 1519.8,1084.0 1521.3,1084.0 1522.8,1084.0 1524.3,1084.0 1525.8,1084.0 1527.3,1084.0 1528.8,1084.0 1530.3,1084.0 1531.8,1084.0 1533.3,1084.0 1534.8,1084.0 1536.3,1084.0 1537.8,1084.0 1539.3,1084.0 1540.8,1084.0 1542.3,1084.0 1543.8,1084.0 1545.3,1084.0 1546.8,1084.0 1548.3,1084.0 1549.8,1084.0 1551.3,1084.0 1552.8,1084.0 1554.3,1084.0 1555.8,1084.0 1557.3,1084.0 1558.8,1084.0 1560.3,1084.0 1561.8,1084.0 1563.3,1084.0 1564.8,1084.0 1566.3,1084.0 1567.8,1084.0 1569.3,1084.0 1570.8,1084.0 1572.3,1084.0 1573.8,1084.0 1575.3,1084.0 1576.8,1084.0 1578.3,1084.0 1579.8,1084.0 1581.3,1084.0 1582.8,1084.0 1584.3,1084.0 1585.8,1084.0 1587.3,1084.0 1588.8,1084.0 1590.3,1084.0 1591.8,1084.0 1593.3,1084.0 1594.8,1084.0 1596.3,1084.0 1597.8,1084.0 1599.3,1084.0 1600.8,1084.0 1602.3,1084.0 1603.8,1084.0 1605.3,1084.0 1606.8,1084.0 1608.3,1084.0 1609.8,1084.0 1611.3,1084.0 1612.8,1084.0 1614.3,1084.0 1615.8,1084.0 1617.3,1084.0 1618.8,1084.0 1620.2,1084.0 1621.6,1084.0 1622.2,1084.0"/>
<path stroke="#f00" d="M297.1,710.4 297.9,709.8 299.1,709.0 300.3,708.2 301.6,707.4 302.8,706.5 304.1,705.7 305.4,704.9 306.6,704.1 307.9,703.3 309.0,702.3 310.1,701.2 311.0,700.1 311.9,698.9 312.8,697.7 313.5,696.4 314.2,695.1 314.9,693.7 315.5,692.3 316.0,690.9 316.5,689.5 317.0,688.1 317.4,686.7 317.8,685.2 318.2,683.8 318.6,682.3 319.0,680.9 319.3,679.4 319.6,677.9 319.9,676.5 320.2,675.0 320.4,673.5 320.6,672.0 320.9,670.5 321.0,669.1 321.2,667.6 321.4,666.1 321.5,664.6 321.7,663.1 321.8,661.6 321.9,660.1 322.0,658.6 322.1,657.1 322.2,655.6 322.3,654.1 322.4,652.6 322.5,651.1 322.6,649.6 322.8,648.1 322.9,646.6 323.0,645.1 323.1,643.6 323.2,642.1 323.3,640.6 323.4,639.2 323.5,637.7 323.6,636.2 323.7,634.7 323.7,633.2 323.8,631.7 323.9,630.2 324.0,628.7 324.1,627.2 324.2,625.7 324.3,624.2 324.3,622.7 324.4,621.2 324.5,619.7 324.6,618.2 324.7,616.7 324.8,615.2 324.8,613.7 324.9,612.2 325.0,610.7 325.1,609.2 325.1,607.7 325.2,606.2 325.3,604.7 325.3,603.2 325.4,601.7 325.5,600.2 325.6,598.7 325.6,597.2 325.7,595.7 325.8,594.2 325.8,592.7 325.9,591.2 326.0,589.7 326.0,588.2 326.1,586.7 326.2,585.2 326.3,583.7 326.4,582.2 326.5,580.7 326.6,579.2 326.6,577.7 326.7,576.2 326.8,574.7 326.9,573.3 327.1,571.8 327.2,570.3 327.3,568.8 327.4,567.3 327.6,565.8 327.8,564.3 328.0,562.8 328.3,561.3 328.6,559.9 328.9,558.4 329.4,557.2 330.0,556.6 330.7,557.0 331.3,558.1 331.8,559.5 332.2,561.0 332.6,562.4 332.9,563.9 333.2,565.3 333.5,566.8 333.7,568.3 334.0,569.8 334.2,571.3 334.4,572.7 334.7,574.2 334.9,575.7 335.1,577.2 335.3,578.7 335.5,580.2 335.7,581.7 335.9,583.1 336.1,584.6 336.2,586.1 336.4,587.6 336.6,589.1 336.8,590.6 337.0,592.1 337.2,593.6 337.3,595.1 337.5,596.5 337.7,598.0 337.9,599.5 338.1,601.0 338.3,602.5 338.6,604.0 338.8,605.5 339.0,606.9 339.3,608.4 339.5,609.9 339.7,611.4 340.0,612.9 340.2,614.3 340.4,615.8 340.6,617.3 340.8,618.8 341.0,620.3 341.2,621.8 341.4,623.3 341.5,624.8 341.7,626.2 341.8,627.7 342.0,629.2 342.1,630.7 342.2,632.2 342.4,633.7 342.5,635.2 342.6,636.7 342.8,638.2 342.9,639.7 343.1,641.2 343.3,642.7 343.4,644.2 343.6,645.6 343.8,647.1 344.0,648.6 344.2,650.1 344.4,651.6 344.6,653.1 344.8,654.6 344.9,656.1 345.1,657.5 345.3,659.0 345.5,660.5 345.7,662.0 345.9,663.5 346.1,665.0 346.3,666.5 346.6,668.0 346.8,669.4 347.0,670.9 347.2,672.4 347.4,673.9 347.6,675.4 347.8,676.9 348.0,678.3 348.3,679.8 348.5,681.3 348.7,682.8 348.9,684.3 349.1,685.8 349.3,687.3 349.6,688.7 349.8,690.2 350.0,691.7 350.2,693.2 350.4,694.7 350.7,696.2 350.9,697.6 351.2,699.1 351.4,700.6 351.7,702.1 352.0,703.5 352.2,705.0 352.5,706.5 352.7,708.0 353.0,709.5 353.3,710.9 353.6,712.4 353.9,713.9 354.3,715.3 354.8,716.7 355.3,718.1 355.9,719.5 356.5,720.9 357.2,722.2 358.0,723.5 358.7,724.8 359.5,726.1 360.3,727.3 361.1,728.6 361.9,729.9 362.6,731.2 363.3,732.5 364.0,733.9 364.7,735.2 365.4,736.5 366.2,737.8 366.9,739.1 367.8,740.3 368.7,741.5 369.6,742.7 370.6,743.8 371.6,744.8 372.9,745.5 374.2,745.5 375.5,745.0 376.6,744.1 377.6,743.0 378.6,741.8 379.5,740.7 380.4,739.5 381.4,738.3 382.3,737.1 383.2,735.9 384.1,734.7 384.9,733.5 385.8,732.2 386.5,731.0 387.3,729.7 388.0,728.3 388.7,727.0 389.4,725.7 390.1,724.4 391.0,723.1 391.9,721.9 392.8,720.8 393.8,719.6 394.8,718.5 395.8,717.4 396.8,716.3 397.8,715.1 398.8,714.0 399.8,712.9 400.8,711.8 401.7,710.7 402.6,709.5 403.5,708.2 404.2,706.9 404.9,705.6 405.4,704.2 406.0,702.8 406.5,701.4 406.9,699.9 407.3,698.5 407.7,697.0 408.0,695.6 408.4,694.1 408.9,692.7 409.4,691.3 410.0,689.9 410.6,688.5 411.1,687.1 411.6,685.7 412.1,684.3 412.6,682.9 413.0,681.5 413.4,680.0 413.8,678.6 414.2,677.1 414.5,675.7 414.9,674.2 415.2,672.7 415.6,671.3 416.0,669.8 416.4,668.4 416.9,667.0 417.3,665.5 417.8,664.1 418.2,662.7 418.6,661.2 419.0,659.8 419.4,658.3 419.8,656.9 420.2,655.4 420.5,654.0 420.9,652.5 421.2,651.1 421.6,649.6 421.9,648.1 422.2,646.7 422.5,645.2 422.8,643.7 423.1,642.3 423.4,640.8 423.7,639.3 424.0,637.9 424.3,636.4 424.6,634.9 424.9,633.4 425.2,632.0 425.5,630.5 425.8,629.0 426.1,627.6 426.3,626.1 426.6,624.6 426.9,623.1 427.1,621.7 427.4,620.2 427.7,618.7 428.0,617.2 428.2,615.8 428.5,614.3 428.8,612.8 429.1,611.3 429.5,609.9 429.8,608.4 430.2,607.0 430.5,605.5 430.9,604.1 431.3,602.6 431.8,601.2 432.2,599.7 432.7,598.3 433.1,596.9 433.6,595.5 433.9,594.0 434.2,592.5 434.5,591.1 434.9,589.6 435.5,588.3 436.4,587.2 437.6,586.3 438.9,585.7 440.3,585.5 441.7,585.7 443.0,586.4 444.2,587.2 445.3,588.2 446.3,589.4 447.1,590.6 447.8,591.9 448.4,593.3 449.0,594.7 449.5,596.1 450.1,597.5 450.6,598.9 451.0,600.3 451.4,601.8 451.8,603.2 452.1,604.7 452.4,606.2 452.8,607.6 453.1,609.1 453.4,610.5 453.8,612.0 454.1,613.5 454.5,614.9 454.8,616.4 455.2,617.8 455.5,619.3 455.9,620.7 456.3,622.2 456.6,623.7 457.0,625.1 457.4,626.6 457.9,628.0 458.3,629.4 458.7,630.9 459.2,632.3 459.6,633.7 460.1,635.1 460.6,636.6 461.1,638.0 461.6,639.4 462.1,640.8 462.6,642.2 463.1,643.6 463.7,645.0 464.2,646.4 464.7,647.8 465.3,649.2 465.8,650.6 466.2,652.1 466.7,653.5 467.1,654.9 467.6,656.4 468.0,657.8 468.4,659.2 468.8,660.7 469.2,662.1 469.6,663.6 470.1,665.0 470.5,666.4 470.9,667.9 471.4,669.3 471.9,670.7 472.3,672.2 472.8,673.6 473.3,675.0 473.9,676.4 474.5,677.8 475.2,679.1 475.9,680.4 476.7,681.6 477.6,682.9 478.4,684.1 479.2,685.4 480.0,686.7 480.8,687.9 481.7,689.1 482.8,690.2 483.9,691.2 485.1,692.1 486.3,692.7 487.7,692.9 489.0,692.5 490.2,691.7 491.3,690.7 492.3,689.6 493.4,688.5 494.3,687.4 495.2,686.2 496.0,684.9 496.7,683.6 497.3,682.2 497.9,680.8 498.4,679.4 498.9,678.0 499.4,676.6 499.9,675.2 500.3,673.8 500.8,672.3 501.3,670.9 501.8,669.5 502.2,668.1 502.6,666.6 503.1,665.2 503.5,663.8 504.0,662.3 504.4,660.9 504.9,659.5 505.3,658.0 505.8,656.6 506.2,655.2 506.6,653.7 507.1,652.3 507.5,650.9 508.0,649.4 508.4,648.0 508.8,646.5 509.2,645.1 509.6,643.7 510.0,642.2 510.4,640.8 510.8,639.3 511.2,637.9 511.6,636.4 512.0,635.0 512.5,633.6 513.0,632.1 513.5,630.7 514.0,629.3 514.5,627.9 515.0,626.5 515.5,625.1 516.0,623.7 516.5,622.2 516.9,620.8 517.4,619.4 517.9,618.0 518.4,616.6 518.9,615.1 519.4,613.7 520.0,612.3 520.5,611.0 521.2,609.6 521.8,608.3 522.5,606.9 523.3,605.6 524.1,604.4 525.0,603.2 526.0,602.1 527.1,601.1 528.4,600.3 529.7,599.9 531.2,599.6 532.7,599.5 534.2,599.6 535.7,599.8 537.1,600.2 538.4,600.9 539.5,601.8 540.6,602.9 541.5,604.0 542.4,605.2 543.3,606.4 544.1,607.7 545.0,608.9 545.8,610.2 546.6,611.4 547.3,612.7 548.0,614.1 548.6,615.4 549.2,616.8 549.8,618.2 550.4,619.6 550.9,621.0 551.4,622.4 551.9,623.8 552.3,625.3 552.8,626.7 553.2,628.1 553.6,629.6 554.0,631.0 554.4,632.5 554.8,633.9 555.2,635.4 555.6,636.8 556.0,638.2 556.5,639.7 556.9,641.1 557.3,642.6 557.7,644.0 558.1,645.5 558.4,646.9 558.8,648.4 559.2,649.8 559.5,651.3 559.8,652.7 560.2,654.2 560.5,655.7 560.8,657.1 561.1,658.6 561.4,660.1 561.7,661.5 562.1,663.0 562.4,664.5 562.8,665.9 563.1,667.4 563.4,668.8 563.8,670.3 564.1,671.8 564.4,673.2 564.8,674.7 565.1,676.2 565.4,677.6 565.6,679.1 565.9,680.6 566.2,682.1 566.6,683.5 566.9,685.0 567.3,686.4 567.7,687.9 568.2,689.3 568.6,690.7 569.1,692.1 569.6,693.6 570.1,695.0 570.6,696.4 571.0,697.8 571.5,699.3 571.9,700.7 572.3,702.1 572.7,703.6 573.1,705.0 573.5,706.5 573.9,707.9 574.3,709.4 574.7,710.8 575.0,712.3 575.4,713.7 575.7,715.2 576.1,716.7 576.4,718.1 576.7,719.6 577.0,721.1 577.3,722.5 577.6,724.0 577.9,725.5 578.2,726.9 578.5,728.4 578.7,729.9 579.0,731.4 579.3,732.9 579.5,734.3 579.8,735.8 580.0,737.3 580.3,738.8 580.6,740.2 580.9,741.7 581.2,743.2 581.5,744.6 581.9,746.1 582.2,747.6 582.5,749.0 582.9,750.5 583.2,751.9 583.6,753.4 583.9,754.9 584.3,756.3 584.7,757.8 585.0,759.2 585.4,760.7 585.8,762.1 586.2,763.6 586.6,765.0 587.0,766.5 587.4,767.9 587.9,769.3 588.4,770.7 588.9,772.1 589.4,773.6 589.8,775.0 590.3,776.4 590.7,777.9 591.1,779.3 591.4,780.8 591.8,782.2 592.2,783.7 592.5,785.1 592.9,786.6 593.3,788.0 593.6,789.5 594.0,790.9 594.5,792.4 594.9,793.8 595.3,795.2 595.8,796.7 596.3,798.1 596.9,799.5 597.4,800.9 597.9,802.3 598.5,803.7 599.1,805.1 599.7,806.4 600.3,807.8 600.9,809.2 601.5,810.5 602.2,811.9 602.8,813.2 603.5,814.6 604.2,815.9 604.9,817.2 605.6,818.6 606.3,819.9 607.0,821.2 607.8,822.5 608.6,823.8 609.4,825.0 610.2,826.3 611.0,827.6 611.8,828.8 612.6,830.1 613.5,831.3 614.3,832.6 615.1,833.8 616.0,835.1 616.8,836.3 617.7,837.5 618.5,838.8 619.3,840.0 620.2,841.3 621.0,842.5 621.8,843.8 622.7,845.0 623.5,846.3 624.3,847.5 625.1,848.8 626.0,850.0 626.8,851.3 627.6,852.5 628.5,853.8 629.3,855.0 630.2,856.2 631.1,857.4 632.0,858.6 632.8,859.8 633.6,861.1 634.3,862.4 635.0,863.8 635.8,865.1 636.5,866.4 637.3,867.7 638.0,868.9 638.8,870.2 639.6,871.5 640.4,872.8 641.2,874.0 642.0,875.3 642.8,876.6 643.6,877.9 644.3,879.2 645.1,880.4 646.0,881.7 646.8,882.9 647.7,884.1 648.6,885.3 649.5,886.5 650.5,887.7 651.5,888.8 652.4,890.0 653.4,891.1 654.4,892.2 655.4,893.3 656.4,894.4 657.5,895.5 658.5,896.6 659.6,897.6 660.7,898.6 661.8,899.6 663.0,900.6 664.1,901.5 665.3,902.4 666.5,903.3 667.8,904.1 669.1,904.9 670.3,905.7 671.6,906.5 673.0,907.2 674.3,907.8 675.7,908.3 677.1,908.8 678.6,909.1 680.1,909.3 681.6,909.4 683.1,909.4 684.6,909.5 686.1,909.4 687.6,909.4 689.1,909.2 690.6,909.1 692.0,908.8 693.5,908.5 695.0,908.2 696.4,907.7 697.7,907.1 699.1,906.4 700.4,905.8 701.8,905.1 703.1,904.4 704.4,903.7 705.8,903.0 707.1,902.3 708.4,901.6 709.7,900.9 711.0,900.1 712.3,899.3 713.6,898.5 714.8,897.7 716.0,896.8 717.2,895.9 718.4,895.0 719.6,894.1 720.7,893.1 721.8,892.1 722.9,891.0 724.0,890.0 725.0,888.9 726.0,887.7 726.9,886.5 727.7,885.3 728.5,884.0 729.3,882.8 730.1,881.5 730.8,880.2 731.6,878.9 732.4,877.7 733.3,876.4 734.3,875.3 735.2,874.1 736.2,873.0 737.1,871.8 738.0,870.6 738.9,869.4 739.7,868.1 740.5,866.9 741.3,865.6 742.1,864.3 742.9,863.0 743.7,861.8 744.5,860.5 745.3,859.3 746.2,858.0 747.0,856.7 747.7,855.5 748.5,854.2 749.2,852.9 750.0,851.6 750.7,850.2 751.5,848.9 752.2,847.7 753.0,846.4 753.8,845.1 754.6,843.8 755.4,842.5 756.2,841.3 757.0,840.0 757.8,838.7 758.6,837.5 759.4,836.2 760.2,835.0 761.0,833.7 761.8,832.4 762.5,831.1 763.3,829.8 764.0,828.5 764.8,827.2 765.6,826.0 766.4,824.7 767.3,823.4 768.1,822.2 768.9,820.9 769.7,819.7 770.5,818.4 771.2,817.1 771.9,815.8 772.6,814.4 773.2,813.1 773.9,811.7 774.5,810.3 775.1,809.0 775.7,807.6 776.4,806.2 777.0,804.9 777.6,803.5 778.2,802.1 778.8,800.8 779.4,799.4 780.0,798.0 780.6,796.6 781.2,795.3 781.8,793.9 782.4,792.5 783.1,791.2 783.7,789.8 784.3,788.4 784.9,787.1 785.5,785.7 786.2,784.3 786.8,783.0 787.4,781.6 788.0,780.2 788.7,778.9 789.3,777.5 789.9,776.2 790.5,774.8 791.1,773.4 791.7,772.0 792.4,770.7 793.0,769.3 793.6,767.9 794.1,766.5 794.7,765.2 795.2,763.8 795.7,762.3 796.2,760.9 796.7,759.5 797.2,758.1 797.8,756.7 798.4,755.3 799.0,754.0 799.6,752.6 800.3,751.3 800.9,749.9 801.6,748.5 802.2,747.2 802.9,745.8 803.5,744.5 804.2,743.1 804.9,741.8 805.5,740.4 806.2,739.1 806.8,737.7 807.5,736.4 808.1,735.0 808.7,733.7 809.3,732.3 810.0,730.9 810.6,729.6 811.2,728.2 811.8,726.8 812.4,725.4 813.0,724.1 813.5,722.7 814.1,721.3 814.7,719.9 815.3,718.5 815.9,717.2 816.5,715.8 817.1,714.4 817.6,713.0 818.2,711.6 818.8,710.3 819.4,708.9 820.0,707.5 820.6,706.1 821.2,704.8 821.8,703.4 822.4,702.0 823.0,700.6 823.6,699.2 824.2,697.9 824.8,696.5 825.4,695.1 825.9,693.7 826.5,692.4 827.2,691.0 827.8,689.6 828.4,688.2 829.0,686.9 829.7,685.5 830.3,684.2 831.0,682.9 831.7,681.5 832.5,680.2 833.3,679.0 834.1,677.7 834.9,676.5 835.8,675.2 836.6,674.0 837.4,672.7 838.2,671.4 838.9,670.1 839.6,668.8 840.2,667.4 840.8,666.1 841.4,664.7 841.9,663.3 842.5,661.9 843.0,660.5 843.5,659.0 844.0,657.6 844.5,656.2 845.0,654.8 845.5,653.4 846.0,652.0 846.5,650.6 847.1,649.2 847.6,647.8 848.2,646.4 848.8,645.0 849.4,643.6 849.9,642.2 850.5,640.9 851.1,639.5 851.7,638.1 852.3,636.7 852.9,635.3 853.5,634.0 854.1,632.6 854.7,631.2 855.3,629.8 855.9,628.5 856.5,627.1 857.1,625.7 857.7,624.4 858.3,623.0 859.0,621.6 859.6,620.3 860.2,618.9 860.9,617.6 861.5,616.2 862.1,614.8 862.8,613.5 863.4,612.1 864.1,610.8 864.7,609.4 865.3,608.1 866.0,606.7 866.6,605.3 867.2,604.0 867.8,602.6 868.4,601.2 869.0,599.8 869.5,598.4 870.1,597.0 870.6,595.6 871.2,594.2 871.7,592.8 872.3,591.4 872.8,590.0 873.4,588.7 873.9,587.3 874.5,585.9 875.1,584.5 875.7,583.1 876.4,581.8 877.0,580.4 877.7,579.1 878.3,577.7 879.0,576.4 879.7,575.1 880.4,573.7 881.1,572.4 881.8,571.1 882.5,569.8 883.2,568.5 884.0,567.2 884.8,565.9 885.5,564.6 886.3,563.3 887.1,562.0 887.8,560.7 888.6,559.4 889.3,558.1 890.1,556.8 891.0,555.6 891.9,554.4 892.9,553.3 894.0,552.4 895.3,551.6 896.6,551.0 898.1,550.6 899.5,550.4 901.0,550.3 902.5,550.3 904.0,550.4 905.5,550.6 907.0,550.8 908.4,551.1 909.9,551.5 911.3,552.1 912.6,552.7 914.0,553.4 915.2,554.2 916.5,555.0 917.7,555.9 918.9,556.8 920.1,557.7 921.2,558.7 922.4,559.6 923.5,560.6 924.6,561.7 925.7,562.7 926.8,563.7 927.8,564.8 929.0,565.8 930.1,566.8 931.2,567.8 932.3,568.7 933.5,569.7 934.6,570.7 935.8,571.6 936.9,572.6 938.1,573.5 939.4,574.3 940.6,575.2 941.9,576.0 943.2,576.7 944.5,577.4 945.8,578.1 947.2,578.8 948.5,579.4 949.9,580.0 951.3,580.6 952.7,581.1 954.1,581.7 955.5,582.2 956.9,582.6 958.4,583.1 959.8,583.5 961.3,583.8 962.8,584.0 964.3,584.0 965.8,584.0 967.2,583.9 968.7,583.6 970.2,583.3 971.6,583.0 973.1,582.5 974.5,582.0 975.9,581.5 977.3,581.0 978.7,580.3 980.0,579.6 981.3,578.9 982.6,578.1 983.8,577.3 985.1,576.5 986.3,575.7 987.6,574.8 988.8,574.0 990.1,573.2 991.4,572.4 992.6,571.6 993.9,570.8 995.2,570.0 996.4,569.2 997.7,568.3 998.9,567.5 1000.1,566.6 1001.3,565.7 1002.5,564.8 1003.7,563.8 1004.8,562.9 1005.9,561.9 1007.1,560.9 1008.2,559.9 1009.3,558.8 1010.4,557.8 1011.5,556.8 1012.6,555.9 1013.8,554.9 1015.0,554.0 1016.2,553.1 1017.4,552.2 1018.6,551.3 1019.8,550.5 1021.1,549.6 1022.3,548.8 1023.5,547.9 1024.8,547.1 1026.0,546.3 1027.3,545.4 1028.5,544.6 1029.7,543.7 1031.0,542.8 1032.2,542.0 1033.4,541.1 1034.7,540.3 1035.9,539.5 1037.2,538.7 1038.5,537.9 1039.8,537.1 1041.1,536.4 1042.4,535.7 1043.7,535.0 1045.1,534.3 1046.4,533.7 1047.8,533.0 1049.2,532.5 1050.6,531.9 1052.0,531.5 1053.5,531.1 1054.9,530.9 1056.4,530.7 1057.9,530.6 1059.4,530.6 1060.9,530.6 1062.4,530.7 1063.9,530.8 1065.4,531.0 1066.9,531.3 1068.3,531.6 1069.8,531.9 1071.3,532.2 1072.7,532.6 1074.1,533.1 1075.5,533.6 1076.9,534.2 1078.3,534.8 1079.6,535.5 1080.9,536.3 1082.1,537.1 1083.3,538.0 1084.5,538.9 1085.7,539.8 1086.9,540.8 1088.0,541.8 1089.1,542.8 1090.1,543.9 1091.1,545.0 1092.1,546.2 1093.0,547.4 1093.8,548.6 1094.6,549.9 1095.5,551.1 1096.3,552.4 1097.1,553.6 1098.0,554.9 1098.8,556.1 1099.7,557.3 1100.6,558.5 1101.5,559.7 1102.4,560.9 1103.3,562.1 1104.2,563.3 1105.1,564.5 1106.0,565.7 1106.9,566.9 1107.8,568.1 1108.7,569.3 1109.6,570.5 1110.5,571.7 1111.4,572.9 1112.4,574.0 1113.3,575.2 1114.2,576.4 1115.2,577.6 1116.1,578.7 1117.1,579.9 1118.0,581.1 1118.9,582.3 1119.8,583.5 1120.6,584.7 1121.5,586.0 1122.3,587.2 1123.1,588.5 1123.8,589.8 1124.5,591.1 1125.2,592.4 1125.9,593.8 1126.5,595.2 1127.2,596.5 1127.8,597.9 1128.4,599.2 1129.0,600.6 1129.6,602.0 1130.3,603.3 1130.9,604.7 1131.5,606.1 1132.2,607.4 1132.8,608.8 1133.5,610.1 1134.1,611.5 1134.7,612.8 1135.4,614.2 1136.0,615.6 1136.6,616.9 1137.2,618.3 1137.8,619.7 1138.4,621.0 1139.0,622.4 1139.6,623.8 1140.2,625.2 1140.7,626.6 1141.3,628.0 1141.8,629.4 1142.4,630.8 1142.9,632.2 1143.4,633.6 1143.8,635.0 1144.3,636.4 1144.8,637.9 1145.2,639.3 1145.7,640.7 1146.2,642.2 1146.6,643.6 1147.1,645.0 1147.5,646.5 1148.0,647.9 1148.4,649.3 1148.9,650.7 1149.4,652.2 1149.9,653.6 1150.4,655.0 1150.9,656.4 1151.4,657.8 1151.9,659.2 1152.4,660.6 1152.9,662.1 1153.4,663.5 1153.9,664.9 1154.4,666.3 1154.9,667.7 1155.5,669.1 1156.0,670.5 1156.5,671.9 1157.0,673.3 1157.6,674.7 1158.1,676.1 1158.6,677.5 1159.2,678.9 1159.7,680.3 1160.2,681.7 1160.8,683.1 1161.4,684.5 1161.9,685.9 1162.5,687.3 1163.0,688.7 1163.6,690.1 1164.2,691.5 1164.7,692.9 1165.3,694.2 1165.9,695.6 1166.4,697.0 1167.0,698.4 1167.6,699.8 1168.2,701.2 1168.8,702.5 1169.4,703.9 1170.0,705.3 1170.6,706.7 1171.1,708.1 1171.7,709.4 1172.3,710.8 1172.8,712.2 1173.3,713.6 1173.8,715.1 1174.3,716.5 1174.8,717.9 1175.2,719.3 1175.6,720.8 1176.0,722.2 1176.4,723.7 1176.8,725.1 1177.1,726.6 1177.5,728.0 1177.9,729.5 1178.3,730.9 1178.6,732.4 1179.0,733.8 1179.4,735.3 1179.9,736.7 1180.3,738.2 1180.7,739.6 1181.2,741.0 1181.7,742.4 1182.2,743.8 1182.8,745.2 1183.3,746.6 1183.9,748.0 1184.4,749.4 1185.0,750.8 1185.6,752.2 1186.1,753.6 1186.7,755.0 1187.3,756.4 1187.8,757.7 1188.4,759.1 1189.0,760.5 1189.5,761.9 1190.1,763.3 1190.6,764.7 1191.1,766.1 1191.6,767.6 1192.1,769.0 1192.5,770.4 1193.0,771.8 1193.5,773.3 1193.9,774.7 1194.4,776.1 1194.8,777.5 1195.2,779.0 1195.7,780.4 1196.1,781.8 1196.6,783.3 1197.0,784.7 1197.5,786.1 1197.9,787.6 1198.4,789.0 1198.9,790.4 1199.4,791.8 1199.8,793.3 1200.3,794.7 1200.8,796.1 1201.3,797.5 1201.8,798.9 1202.4,800.3 1202.9,801.7 1203.4,803.1 1203.9,804.6 1204.4,806.0 1204.9,807.4 1205.4,808.8 1205.9,810.2 1206.4,811.6 1206.9,813.0 1207.4,814.4 1207.9,815.9 1208.4,817.3 1208.8,818.7 1209.3,820.1 1209.8,821.6 1210.3,823.0 1210.7,824.4 1211.2,825.8 1211.7,827.3 1212.1,828.7 1212.6,830.1 1213.0,831.5 1213.5,833.0 1213.9,834.4 1214.4,835.8 1214.8,837.3 1215.3,838.7 1215.7,840.1 1216.2,841.6 1216.6,843.0 1217.1,844.4 1217.5,845.9 1217.9,847.3 1218.3,848.7 1218.8,850.2 1219.2,851.6 1219.6,853.1 1220.0,854.5 1220.5,855.9 1220.9,857.4 1221.3,858.8 1221.7,860.3 1222.2,861.7 1222.6,863.1 1223.0,864.6 1223.4,866.0 1223.9,867.4 1224.3,868.9 1224.7,870.3 1225.2,871.8 1225.6,873.2 1226.0,874.6 1226.4,876.1 1226.9,877.5 1227.3,878.9 1227.7,880.4 1228.2,881.8 1228.6,883.3 1229.0,884.7 1229.5,886.1 1229.9,887.6 1230.4,889.0 1230.8,890.4 1231.3,891.8 1231.7,893.3 1232.2,894.7 1232.6,896.1 1233.1,897.6 1233.6,899.0 1234.0,900.4 1234.5,901.8 1235.0,903.3 1235.4,904.7 1235.9,906.1 1236.4,907.5 1236.9,908.9 1237.4,910.4 1237.9,911.8 1238.4,913.2 1238.9,914.6 1239.4,916.0 1239.9,917.4 1240.4,918.9 1240.9,920.3 1241.4,921.7 1241.9,923.1 1242.4,924.5 1242.9,925.9 1243.4,927.3 1243.9,928.7 1244.5,930.1 1245.0,931.5 1245.5,932.9 1246.1,934.3 1246.6,935.7 1247.2,937.1 1247.7,938.5 1248.3,939.9 1248.9,941.3 1249.5,942.7 1250.1,944.0 1250.7,945.4 1251.3,946.8 1252.0,948.1 1252.6,949.5 1253.3,950.8 1253.9,952.2 1254.5,953.5 1255.2,954.9 1255.9,956.2 1256.5,957.6 1257.2,958.9 1257.8,960.3 1258.5,961.6 1259.2,963.0 1259.8,964.3 1260.5,965.7 1261.1,967.0 1261.8,968.4 1262.5,969.7 1263.1,971.0 1263.8,972.4 1264.5,973.7 1265.1,975.1 1265.8,976.4 1266.5,977.7 1267.2,979.1 1267.9,980.4 1268.6,981.7 1269.4,983.0 1270.1,984.3 1270.9,985.6 1271.6,986.9 1272.3,988.2 1273.1,989.5 1273.8,990.9 1274.4,992.2 1275.1,993.6 1275.7,994.9 1276.3,996.3 1276.9,997.7 1277.6,999.0 1278.3,1000.3 1279.1,1001.6 1279.8,1002.9 1280.6,1004.2 1281.3,1005.5 1282.1,1006.8 1282.9,1008.1 1283.6,1009.4 1284.4,1010.6 1285.2,1011.9 1286.0,1013.2 1286.8,1014.5 1287.6,1015.7 1288.4,1017.0 1289.2,1018.3 1290.0,1019.6 1290.8,1020.8 1291.6,1022.1 1292.4,1023.4 1293.2,1024.6 1294.0,1025.9 1294.8,1027.2 1295.6,1028.4 1296.4,1029.7 1297.2,1031.0 1298.1,1032.2 1298.9,1033.5 1299.7,1034.7 1300.6,1035.9 1301.5,1037.2 1302.3,1038.4 1303.2,1039.6 1304.0,1040.8 1304.9,1042.1 1305.7,1043.3 1306.6,1044.6 1307.4,1045.8 1308.3,1047.0 1309.2,1048.2 1310.1,1049.4 1311.0,1050.6 1311.9,1051.8 1312.9,1052.9 1313.9,1054.1 1314.9,1055.1 1316.0,1056.2 1317.1,1057.2 1318.2,1058.1 1319.4,1059.0 1320.7,1059.9 1322.0,1060.7 1323.2,1061.4 1324.6,1062.2 1325.9,1062.8 1327.3,1063.5 1328.6,1064.1 1330.0,1064.7 1331.4,1065.3 1332.7,1065.9 1334.1,1066.5 1335.5,1067.1 1336.9,1067.7 1338.2,1068.3 1339.6,1068.9 1341.0,1069.5 1342.4,1070.1 1343.8,1070.7 1345.2,1071.2 1346.5,1071.8 1348.0,1072.3 1349.4,1072.8 1350.8,1073.3 1352.2,1073.7 1353.6,1074.2 1355.1,1074.6 1356.5,1075.0 1358.0,1075.3 1359.5,1075.6 1360.9,1075.9 1362.4,1076.2 1363.9,1076.4 1365.4,1076.6 1366.9,1076.8 1368.4,1077.0 1369.9,1077.1 1371.3,1077.3 1372.8,1077.5 1374.3,1077.6 1375.8,1077.8 1377.3,1078.0 1378.8,1078.1 1380.3,1078.3 1381.8,1078.5 1383.3,1078.6 1384.8,1078.8 1386.3,1078.9 1387.8,1079.0 1389.2,1079.2 1390.7,1079.3 1392.2,1079.4 1393.7,1079.5 1395.2,1079.6 1396.7,1079.7 1398.2,1079.8 1399.7,1079.9 1401.2,1080.0 1402.7,1080.1 1404.2,1080.1 1405.7,1080.2 1407.2,1080.2 1408.7,1080.3 1410.2,1080.3 1411.7,1080.3 1413.2,1080.3 1414.7,1080.4 1416.2,1080.4 1417.7,1080.4 1419.2,1080.4 1420.7,1080.4 1422.2,1080.4 1423.7,1080.4 1425.2,1080.4 1426.7,1080.4 1428.2,1080.3 1429.7,1080.3 1431.2,1080.3 1432.7,1080.3 1434.2,1080.3 1435.7,1080.3 1437.2,1080.3 1438.7,1080.3 1440.2,1080.2 1441.7,1080.2 1443.2,1080.2 1444.7,1080.2 1446.2,1080.2 1447.7,1080.2 1449.2,1080.2 1450.7,1080.2 1452.2,1080.2 1453.7,1080.2 1455.2,1080.2 1456.7,1080.2 1458.2,1080.2 1459.7,1080.2 1461.2,1080.2 1462.7,1080.2 1464.2,1080.2 1465.7,1080.2 1467.2,1080.2 1468.7,1080.2 1470.2,1080.2 1471.7,1080.2 1473.2,1080.2 1474.7,1080.2 1476.2,1080.2 1477.7,1080.2 1479.2,1080.2 1480.7,1080.2 1482.2,1080.2 1483.7,1080.2 1485.2,1080.2 1486.7,1080.2 1488.2,1080.2 1489.7,1080.2 1491.2,1080.2 1492.7,1080.2 1494.2,1080.2 1495.7,1080.2 1497.2,1080.2 1498.7,1080.2 1500.2,1080.2 1501.7,1080.2 1503.2,1080.2 1504.7,1080.2 1506.2,1080.2 1507.7,1080.2 1509.2,1080.2 1510.7,1080.2 1512.2,1080.2 1513.7,1080.2 1515.2,1080.2 1516.7,1080.2 1518.2,1080.2 1519.7,1080.2 1521.2,1080.2 1522.7,1080.2 1524.2,1080.2 1525.7,1080.2 1527.2,1080.2 1528.7,1080.2 1530.2,1080.2 1531.7,1080.2 1533.2,1080.2 1534.7,1080.2 1536.2,1080.2 1537.7,1080.2 1539.2,1080.2 1540.7,1080.2 1542.2,1080.2 1543.7,1080.2 1545.2,1080.2 1546.7,1080.2 1548.2,1080.2 1549.7,1080.2 1551.2,1080.2 1552.7,1080.2 1554.2,1080.2 1555.7,1080.2 1557.2,1080.2 1558.7,1080.2 1560.2,1080.2 1561.7,1080.2 1563.2,1080.2 1564.7,1080.2 1566.2,1080.2 1567.7,1080.2 1569.2,1080.2 1570.7,1080.2 1572.2,1080.2 1573.7,1080.2 1575.2,1080.2 1576.7,1080.2 1578.2,1080.2 1579.7,1080.2 1581.2,1080.2 1582.7,1080.2 1584.2,1080.2 1585.7,1080.2 1587.2,1080.2 1588.7,1080.2 1590.2,1080.2 1591.7,1080.2 1593.2,1080.2 1594.7,1080.2 1596.2,1080.2 1597.7,1080.2 1599.2,1080.1 1600.7,1080.1 1602.2,1080.1 1603.7,1080.1 1605.2,1080.1 1606.7,1080.1 1608.2,1080.1 1609.7,1080.1 1611.2,1080.1 1612.7,1080.1 1614.2,1080.1 1615.7,1080.0 1617.2,1080.0 1618.7,1080.0 1620.2,1080.0 1621.5,1080.0 1622.1,1080.0"/>
<path stroke="#00f" d="M296.6,416.0 297.2,415.2 298.0,414.1 298.9,413.0 300.0,412.4 301.0,412.6 301.9,413.6 302.6,414.8 303.4,415.9 304.4,416.4 305.4,416.0 306.2,415.0 306.9,413.7 307.6,412.4 308.4,411.1 309.4,410.2 310.5,410.1 311.7,410.6 312.7,411.6 313.7,412.7 314.8,413.4 316.0,413.5 317.1,412.8 318.1,411.7 318.9,410.4 319.6,409.1 320.2,407.7 320.7,406.3 321.1,404.9 321.4,403.4 321.6,401.9 321.9,400.4 322.1,399.0 322.3,397.5 322.6,396.0 322.9,394.5 323.2,393.1 323.5,391.6 323.9,390.2 324.4,388.7 325.0,387.4 325.8,386.2 326.8,385.3 328.0,385.1 329.2,385.6 330.1,386.7 331.0,387.9 331.6,389.2 332.1,390.6 332.5,392.1 332.8,393.5 333.2,395.0 333.5,396.5 333.9,397.9 334.3,399.4 334.6,400.8 335.0,402.3 335.4,403.7 335.8,405.1 336.3,406.6 336.8,408.0 337.5,409.3 338.2,410.7 338.9,412.0 339.5,413.3 340.1,414.7 340.5,416.1 340.9,417.6 341.2,419.1 341.5,420.5 341.9,422.0 342.2,423.5 342.5,424.9 342.9,426.4 343.2,427.8 343.6,429.3 344.0,430.7 344.4,432.2 344.8,433.6 345.3,435.0 345.7,436.5 346.2,437.9 346.8,439.3 347.3,440.7 347.9,442.1 348.5,443.4 349.2,444.8 350.0,446.0 351.0,447.0 352.2,447.5 353.4,447.2 354.4,446.3 355.3,445.1 356.0,443.8 356.6,442.4 357.1,441.0 357.5,439.6 357.9,438.1 358.2,436.7 358.5,435.2 358.7,433.7 358.9,432.2 359.1,430.7 359.3,429.3 359.5,427.8 359.7,426.3 359.8,424.8 360.0,423.3 360.2,421.8 360.3,420.3 360.5,418.8 360.7,417.3 360.9,415.8 361.1,414.4 361.3,412.9 361.5,411.4 361.7,409.9 362.0,408.4 362.2,406.9 362.5,405.5 362.7,404.0 362.9,402.5 363.2,401.0 363.4,399.5 363.6,398.1 363.9,396.6 364.1,395.1 364.3,393.6 364.5,392.1 364.8,390.7 365.1,389.2 365.3,387.7 365.6,386.2 365.9,384.8 366.2,383.3 366.6,381.8 366.9,380.4 367.2,378.9 367.5,377.4 367.8,376.0 368.1,374.5 368.4,373.0 368.7,371.6 369.0,370.1 369.2,368.6 369.4,367.1 369.6,365.6 369.8,364.1 369.9,362.6 370.1,361.1 370.3,359.7 370.5,358.2 370.6,356.7 370.8,355.2 371.0,353.7 371.2,352.2 371.4,350.7 371.6,349.2 371.8,347.8 372.0,346.3 372.2,344.8 372.4,343.3 372.6,341.8 372.7,340.3 372.9,338.8 373.1,337.3 373.3,335.9 373.5,334.4 373.7,332.9 373.9,331.4 374.1,329.9 374.2,328.4 374.4,326.9 374.6,325.4 374.8,323.9 374.9,322.4 375.1,321.0 375.2,319.5 375.4,318.0 375.6,316.5 375.7,315.0 375.8,313.5 376.0,312.0 376.1,310.5 376.3,309.0 376.4,307.5 376.5,306.0 376.6,304.5 376.8,303.0 376.9,301.5 377.0,300.0 377.1,298.6 377.3,297.1 377.4,295.6 377.5,294.1 377.6,292.6 377.7,291.1 377.9,289.6 378.0,288.1 378.1,286.6 378.2,285.1 378.3,283.6 378.5,282.1 378.6,280.6 378.7,279.1 378.8,277.6 378.9,276.1 379.0,274.6 379.1,273.1 379.1,271.6 379.2,270.1 379.3,268.6 379.4,267.1 379.4,265.6 379.5,264.1 379.6,262.6 379.7,261.1 379.8,259.6 379.9,258.1 380.0,256.6 380.1,255.2 380.2,253.7 380.3,252.2 380.5,250.7 380.7,249.2 380.9,247.7 381.1,246.2 381.4,244.8 381.8,243.3 382.2,241.9 382.8,240.5 383.4,239.2 384.2,238.4 385.0,238.6 385.6,239.6 386.0,241.0 386.2,242.5 386.5,244.0 386.7,245.4 386.8,246.9 387.0,248.4 387.2,249.9 387.4,251.4 387.5,252.9 387.7,254.4 387.9,255.9 388.1,257.4 388.2,258.8 388.4,260.3 388.5,261.8 388.7,263.3 388.8,264.8 389.0,266.3 389.1,267.8 389.2,269.3 389.3,270.8 389.4,272.3 389.6,273.8 389.7,275.3 389.8,276.8 389.9,278.3 390.0,279.8 390.1,281.3 390.2,282.8 390.3,284.3 390.4,285.8 390.5,287.3 390.6,288.7 390.7,290.2 390.8,291.7 390.9,293.2 391.1,294.7 391.2,296.2 391.3,297.7 391.4,299.2 391.5,300.7 391.6,302.2 391.7,303.7 391.8,305.2 391.9,306.7 392.0,308.2 392.0,309.7 392.1,311.2 392.2,312.7 392.3,314.2 392.4,315.7 392.5,317.2 392.6,318.7 392.7,320.2 392.8,321.7 392.9,323.2 393.0,324.7 393.1,326.2 393.2,327.7 393.3,329.2 393.4,330.7 393.5,332.2 393.6,333.6 393.8,335.1 393.9,336.6 394.0,338.1 394.1,339.6 394.3,341.1 394.4,342.6 394.5,344.1 394.7,345.6 394.8,347.1 394.9,348.6 395.1,350.1 395.2,351.6 395.3,353.1 395.5,354.6 395.6,356.1 395.8,357.5 395.9,359.0 396.1,360.5 396.3,362.0 396.5,363.5 396.7,365.0 396.9,366.5 397.1,368.0 397.3,369.4 397.6,370.9 397.8,372.4 398.1,373.9 398.3,375.4 398.5,376.9 398.8,378.3 399.2,379.8 399.8,381.0 400.6,381.6 401.6,381.4 402.5,380.4 403.3,379.2 404.1,377.9 404.7,376.5 405.3,375.2 405.9,373.8 406.4,372.4 406.8,370.9 407.2,369.5 407.6,368.0 408.0,366.6 408.3,365.1 408.7,363.6 409.0,362.2 409.3,360.7 409.6,359.2 409.8,357.8 410.1,356.3 410.4,354.8 410.6,353.3 410.9,351.9 411.1,350.4 411.3,348.9 411.5,347.4 411.7,345.9 411.9,344.4 412.1,342.9 412.3,341.4 412.4,340.0 412.6,338.5 412.8,337.0 412.9,335.5 413.1,334.0 413.2,332.5 413.4,331.0 413.6,329.5 413.7,328.0 413.9,326.5 414.0,325.0 414.2,323.6 414.4,322.1 414.5,320.6 414.7,319.1 414.9,317.6 415.0,316.1 415.2,314.6 415.4,313.1 415.5,311.6 415.7,310.1 415.9,308.6 416.0,307.2 416.2,305.7 416.3,304.2 416.5,302.7 416.7,301.2 416.8,299.7 417.0,298.2 417.1,296.7 417.3,295.2 417.5,293.7 417.6,292.2 417.8,290.7 417.9,289.3 418.1,287.8 418.2,286.3 418.4,284.8 418.5,283.3 418.7,281.8 418.8,280.3 419.0,278.8 419.2,277.3 419.3,275.8 419.5,274.3 419.6,272.8 419.8,271.4 419.9,269.9 420.1,268.4 420.3,266.9 420.4,265.4 420.6,263.9 420.7,262.4 420.9,260.9 421.0,259.4 421.2,257.9 421.4,256.4 421.5,254.9 421.7,253.5 421.8,252.0 422.0,250.5 422.1,249.0 422.3,247.5 422.4,246.0 422.6,244.5 422.7,243.0 422.9,241.5 423.0,240.0 423.2,238.5 423.3,237.0 423.5,235.5 423.6,234.1 423.8,232.6 423.9,231.1 424.0,229.6 424.2,228.1 424.3,226.6 424.4,225.1 424.5,223.6 424.6,222.1 424.7,220.6 424.8,219.1 424.9,217.6 425.0,216.1 425.1,214.6 425.2,213.1 425.3,211.6 425.4,210.1 425.5,208.6 425.6,207.1 425.7,205.6 425.8,204.1 425.9,202.6 426.1,201.1 426.2,199.6 426.3,198.2 426.4,196.7 426.5,195.2 426.7,193.7 426.8,192.2 426.9,190.7 427.1,189.2 427.2,187.7 427.4,186.2 427.5,184.7 427.7,183.2 427.8,181.7 428.0,180.2 428.1,178.7 428.3,177.2 428.4,175.8 428.6,174.3 428.8,172.8 429.0,171.3 429.2,169.8 429.4,168.3 429.6,166.8 429.8,165.3 430.0,163.9 430.2,162.4 430.4,160.9 430.5,159.4 430.7,157.9 430.9,156.4 431.1,154.9 431.3,153.4 431.5,152.0 431.7,150.5 431.9,149.0 432.1,147.5 432.2,146.0 432.4,144.5 432.6,143.0 432.8,141.5 433.0,140.0 433.1,138.6 433.3,137.1 433.5,135.6 433.6,134.1 433.8,132.6 434.0,131.1 434.1,129.6 434.4,128.1 434.6,126.6 434.9,125.2 435.2,123.7 435.5,122.2 435.8,120.8 436.2,119.3 436.6,117.9 436.9,116.4 437.3,115.0 437.7,113.5 438.1,112.1 438.5,110.6 439.0,109.2 439.6,107.8 440.3,106.5 441.0,105.2 442.0,104.3 443.1,104.1 444.3,104.6 445.4,105.5 446.5,106.6 447.4,107.7 448.3,108.9 449.2,110.2 449.9,111.4 450.7,112.7 451.4,114.0 452.1,115.4 452.8,116.7 453.4,118.1 454.0,119.4 454.6,120.8 455.2,122.2 455.7,123.6 456.2,125.0 456.7,126.5 457.1,127.9 457.4,129.4 457.7,130.8 458.0,132.3 458.3,133.8 458.5,135.3 458.8,136.7 459.0,138.2 459.3,139.7 459.5,141.2 459.8,142.6 460.2,144.1 460.5,145.6 460.8,147.0 461.1,148.5 461.4,150.0 461.8,151.4 462.1,152.9 462.4,154.4 462.6,155.8 462.9,157.3 463.2,158.8 463.4,160.3 463.6,161.8 463.9,163.2 464.1,164.7 464.3,166.2 464.5,167.7 464.7,169.2 465.0,170.7 465.2,172.2 465.4,173.6 465.6,175.1 465.8,176.6 466.0,178.1 466.2,179.6 466.5,181.1 466.7,182.5 466.9,184.0 467.1,185.5 467.4,187.0 467.6,188.5 467.9,190.0 468.1,191.4 468.3,192.9 468.6,194.4 468.8,195.9 469.0,197.4 469.3,198.8 469.5,200.3 469.8,201.8 470.0,203.3 470.2,204.8 470.5,206.2 470.7,207.7 471.0,209.2 471.2,210.7 471.4,212.2 471.7,213.6 471.9,215.1 472.1,216.6 472.4,218.1 472.6,219.6 472.9,221.0 473.1,222.5 473.4,224.0 473.6,225.5 473.9,227.0 474.1,228.4 474.4,229.9 474.7,231.4 474.9,232.9 475.2,234.3 475.4,235.8 475.7,237.3 476.0,238.8 476.2,240.3 476.5,241.7 476.7,243.2 477.0,244.7 477.3,246.2 477.5,247.6 477.8,249.1 478.0,250.6 478.3,252.1 478.6,253.6 478.8,255.0 479.1,256.5 479.3,258.0 479.6,259.5 479.9,260.9 480.1,262.4 480.4,263.9 480.6,265.4 480.9,266.8 481.2,268.3 481.4,269.8 481.7,271.3 481.9,272.8 482.2,274.2 482.5,275.7 482.7,277.2 483.0,278.7 483.2,280.1 483.5,281.6 483.8,283.1 484.0,284.6 484.3,286.1 484.5,287.5 484.8,289.0 485.0,290.5 485.2,292.0 485.5,293.5 485.7,294.9 485.9,296.4 486.2,297.9 486.4,299.4 486.7,300.9 487.0,302.3 487.3,303.8 487.6,305.3 487.9,306.7 488.2,308.2 488.5,309.7 488.9,311.1 489.2,312.6 489.6,314.0 490.0,315.5 490.4,316.9 490.7,318.4 491.1,319.8 491.5,321.3 491.8,322.8 492.2,324.2 492.6,325.7 492.9,327.1 493.3,328.6 493.7,330.0 494.1,331.5 494.5,332.9 494.9,334.4 495.3,335.8 495.8,337.2 496.3,338.6 496.8,340.1 497.3,341.5 497.8,342.9 498.4,344.3 498.9,345.7 499.4,347.1 499.9,348.5 500.5,349.9 501.0,351.3 501.4,352.7 501.9,354.2 502.3,355.6 502.7,357.0 503.1,358.5 503.5,359.9 503.9,361.4 504.2,362.8 504.6,364.3 504.9,365.8 505.2,367.2 505.5,368.7 505.8,370.2 506.1,371.6 506.4,373.1 506.7,374.6 507.0,376.1 507.2,377.5 507.5,379.0 507.7,380.5 508.0,382.0 508.2,383.5 508.4,384.9 508.6,386.4 508.8,387.9 509.0,389.4 509.2,390.9 509.4,392.4 509.6,393.9 509.7,395.4 509.9,396.8 510.1,398.3 510.3,399.8 510.5,401.3 510.6,402.8 510.8,404.3 511.0,405.8 511.1,407.3 511.3,408.8 511.5,410.3 511.6,411.8 511.8,413.2 511.9,414.7 512.1,416.2 512.3,417.7 512.4,419.2 512.6,420.7 512.8,422.2 512.9,423.7 513.1,425.2 513.3,426.7 513.4,428.1 513.6,429.6 513.8,431.1 513.9,432.6 514.1,434.1 514.3,435.6 514.5,437.1 514.7,438.6 514.9,440.1 515.1,441.5 515.3,443.0 515.5,444.5 515.7,446.0 515.9,447.5 516.1,449.0 516.4,450.5 516.6,451.9 516.8,453.4 517.1,454.9 517.3,456.4 517.6,457.9 517.8,459.3 518.1,460.8 518.3,462.3 518.5,463.8 518.8,465.3 519.0,466.7 519.2,468.2 519.4,469.7 519.6,471.2 519.8,472.7 520.0,474.2 520.2,475.7 520.4,477.1 520.6,478.6 520.8,480.1 521.0,481.6 521.2,483.1 521.4,484.6 521.6,486.1 521.8,487.6 522.0,489.0 522.3,490.5 522.5,492.0 522.8,493.5 523.1,494.9 523.5,496.4 523.9,497.8 524.4,499.3 524.8,500.7 525.3,502.1 525.8,503.5 526.2,505.0 526.6,506.4 527.1,507.8 527.5,509.3 527.9,510.7 528.4,512.2 528.8,513.6 529.2,515.0 529.6,516.5 530.1,517.9 530.5,519.3 530.9,520.8 531.4,522.2 531.8,523.6 532.3,525.1 532.7,526.5 533.1,527.9 533.6,529.4 534.0,530.8 534.4,532.3 534.9,533.7 535.3,535.1 535.7,536.6 536.1,538.0 536.4,539.5 536.8,540.9 537.1,542.4 537.5,543.9 537.8,545.3 538.1,546.8 538.4,548.3 538.8,549.7 539.1,551.2 539.4,552.7 539.7,554.1 540.0,555.6 540.4,557.0 540.7,558.5 541.0,560.0 541.3,561.4 541.6,562.9 541.9,564.4 542.2,565.9 542.5,567.3 542.8,568.8 543.2,570.3 543.5,571.7 543.9,573.2 544.3,574.6 544.8,576.0 545.4,577.4 546.0,578.8 546.6,580.1 547.3,581.5 548.0,582.8 548.6,584.2 549.2,585.5 549.7,587.0 550.2,588.4 550.7,589.8 551.2,591.2 551.7,592.6 552.2,594.0 552.7,595.4 553.3,596.8 553.9,598.2 554.5,599.6 555.1,601.0 555.6,602.3 556.2,603.7 556.8,605.1 557.3,606.5 557.8,607.9 558.4,609.3 558.9,610.7 559.4,612.2 559.9,613.6 560.4,615.0 560.9,616.4 561.4,617.8 561.9,619.2 562.4,620.6 562.8,622.1 563.3,623.5 563.8,624.9 564.2,626.4 564.6,627.8 565.1,629.2 565.4,630.7 565.8,632.1 566.2,633.6 566.5,635.0 566.9,636.5 567.2,638.0 567.5,639.4 567.8,640.9 568.1,642.4 568.4,643.8 568.7,645.3 569.0,646.8 569.3,648.2 569.7,649.7 569.9,651.2 570.2,652.7 570.5,654.1 570.8,655.6 571.1,657.1 571.4,658.5 571.7,660.0 571.9,661.5 572.2,663.0 572.5,664.4 572.8,665.9 573.1,667.4 573.4,668.9 573.7,670.3 574.0,671.8 574.2,673.3 574.5,674.7 574.8,676.2 575.1,677.7 575.4,679.2 575.7,680.6 576.1,682.1 576.4,683.6 576.7,685.0 577.0,686.5 577.4,687.9 577.7,689.4 578.1,690.9 578.4,692.3 578.8,693.8 579.2,695.2 579.5,696.7 579.9,698.1 580.3,699.6 580.7,701.0 581.0,702.5 581.4,703.9 581.7,705.4 582.1,706.9 582.4,708.3 582.7,709.8 583.0,711.3 583.3,712.7 583.7,714.2 584.0,715.7 584.3,717.1 584.7,718.6 585.0,720.0 585.4,721.5 585.8,722.9 586.2,724.4 586.7,725.8 587.2,727.2 587.8,728.6 588.3,730.0 588.9,731.4 589.5,732.7 590.2,734.1 590.8,735.4 591.5,736.8 592.1,738.1 592.8,739.5 593.4,740.8 594.1,742.2 594.7,743.5 595.4,744.9 596.1,746.2 596.7,747.6 597.4,748.9 598.1,750.3 598.8,751.6 599.4,752.9 600.1,754.3 600.8,755.6 601.5,757.0 602.1,758.3 602.8,759.6 603.5,761.0 604.1,762.3 604.8,763.7 605.4,765.0 606.1,766.4 606.7,767.7 607.4,769.1 608.1,770.4 608.7,771.8 609.4,773.1 610.1,774.4 610.9,775.7 611.6,777.0 612.4,778.3 613.2,779.6 614.0,780.9 614.8,782.1 615.6,783.4 616.4,784.7 617.1,786.0 617.9,787.2 618.7,788.5 619.5,789.8 620.2,791.1 620.9,792.5 621.5,793.8 622.2,795.2 622.8,796.5 623.4,797.9 624.0,799.3 624.6,800.6 625.2,802.0 625.8,803.4 626.4,804.8 627.0,806.1 627.7,807.5 628.3,808.8 629.0,810.2 629.7,811.5 630.5,812.8 631.2,814.1 631.9,815.4 632.7,816.7 633.5,818.0 634.2,819.3 635.0,820.6 635.8,821.8 636.6,823.1 637.4,824.4 638.2,825.6 639.1,826.8 640.1,828.0 641.1,829.1 642.2,830.1 643.3,831.1 644.5,832.0 645.7,832.9 646.9,833.8 648.2,834.6 649.5,835.3 650.9,835.9 652.3,836.4 653.7,836.8 655.2,837.0 656.7,837.2 658.2,837.2 659.7,837.2 661.2,837.1 662.6,836.9 664.1,836.6 665.6,836.3 667.0,835.9 668.5,835.4 669.8,834.9 671.2,834.3 672.6,833.6 673.8,832.8 675.1,832.0 676.3,831.1 677.4,830.1 678.5,829.1 679.6,828.0 680.6,827.0 681.7,825.9 682.8,824.9 683.9,823.9 685.0,822.9 686.1,821.9 687.3,821.0 688.5,820.0 689.6,819.1 690.8,818.1 692.0,817.2 693.2,816.3 694.4,815.4 695.6,814.5 696.8,813.6 698.0,812.8 699.3,812.0 700.5,811.1 701.7,810.2 702.9,809.3 703.9,808.2 704.9,807.0 705.7,805.8 706.5,804.6 707.3,803.3 708.0,801.9 708.7,800.6 709.4,799.3 710.1,797.9 710.7,796.6 711.4,795.2 712.0,793.9 712.7,792.5 713.4,791.2 714.0,789.9 714.7,788.5 715.4,787.2 716.0,785.8 716.6,784.5 717.3,783.1 717.9,781.7 718.6,780.4 719.2,779.0 719.9,777.7 720.5,776.3 721.2,775.0 721.8,773.6 722.5,772.3 723.1,770.9 723.8,769.6 724.5,768.2 725.1,766.9 725.8,765.6 726.5,764.2 727.1,762.9 727.8,761.5 728.5,760.2 729.2,758.9 730.0,757.6 730.7,756.3 731.4,755.0 732.2,753.7 732.9,752.4 733.7,751.1 734.5,749.8 735.2,748.5 736.0,747.2 736.8,745.9 737.5,744.6 738.3,743.3 739.1,742.1 739.8,740.8 740.6,739.5 741.4,738.2 742.1,736.9 742.9,735.6 743.6,734.3 744.4,733.0 745.2,731.7 745.9,730.4 746.7,729.1 747.5,727.8 748.2,726.6 749.0,725.3 749.8,724.0 750.6,722.7 751.4,721.4 752.2,720.2 753.0,718.9 753.8,717.6 754.6,716.4 755.4,715.1 756.3,713.9 757.1,712.7 758.0,711.4 758.8,710.2 759.7,709.0 760.5,707.7 761.4,706.5 762.2,705.2 763.0,704.0 763.9,702.7 764.7,701.5 765.5,700.2 766.2,698.9 767.0,697.6 767.8,696.3 768.5,695.0 769.2,693.7 770.0,692.4 770.7,691.1 771.4,689.8 772.1,688.5 772.9,687.2 773.6,685.8 774.3,684.5 775.1,683.2 775.8,681.9 776.6,680.6 777.3,679.3 778.1,678.1 778.9,676.8 779.7,675.5 780.4,674.2 781.2,672.9 782.0,671.7 782.8,670.4 783.5,669.1 784.3,667.8 785.0,666.5 785.7,665.1 786.4,663.8 787.0,662.4 787.7,661.1 788.2,659.7 788.8,658.3 789.3,656.9 789.9,655.5 790.4,654.1 790.9,652.7 791.4,651.3 791.9,649.9 792.4,648.4 792.9,647.0 793.5,645.6 794.0,644.3 794.6,642.9 795.2,641.5 795.8,640.1 796.4,638.8 797.1,637.4 797.7,636.0 798.3,634.7 798.9,633.3 799.6,631.9 800.2,630.6 800.9,629.2 801.5,627.9 802.2,626.6 802.9,625.2 803.6,623.9 804.4,622.6 805.2,621.3 806.0,620.1 806.7,618.8 807.5,617.5 808.3,616.2 809.0,614.9 809.8,613.6 810.5,612.3 811.3,611.0 812.1,609.7 812.9,608.5 813.7,607.2 814.5,605.9 815.3,604.7 816.1,603.4 816.9,602.1 817.7,600.9 818.6,599.7 819.4,598.4 820.2,597.2 821.1,595.9 821.9,594.6 822.7,593.4 823.4,592.1 824.2,590.8 825.0,589.5 825.8,588.2 826.6,587.0 827.4,585.7 828.1,584.4 828.9,583.1 829.7,581.9 830.6,580.6 831.4,579.4 832.2,578.1 833.1,576.9 834.0,575.7 834.9,574.5 835.9,573.4 836.9,572.2 837.8,571.1 838.8,570.0 839.8,568.8 840.8,567.7 841.7,566.5 842.5,565.3 843.4,564.0 844.2,562.8 845.0,561.5 845.8,560.2 846.5,558.9 847.2,557.6 848.0,556.3 848.7,554.9 849.3,553.6 850.0,552.3 850.7,550.9 851.3,549.6 851.9,548.2 852.5,546.8 853.1,545.5 853.7,544.1 854.3,542.7 854.8,541.3 855.3,539.9 855.9,538.5 856.4,537.1 856.8,535.6 857.3,534.2 857.8,532.8 858.2,531.4 858.7,529.9 859.1,528.5 859.6,527.1 860.0,525.6 860.5,524.2 860.9,522.8 861.4,521.3 861.9,519.9 862.3,518.5 862.8,517.1 863.2,515.6 863.7,514.2 864.1,512.8 864.5,511.3 865.0,509.9 865.4,508.4 865.8,507.0 866.3,505.6 866.7,504.1 867.1,502.7 867.6,501.3 868.0,499.8 868.5,498.4 868.9,497.0 869.4,495.6 869.9,494.1 870.3,492.7 870.8,491.3 871.3,489.9 871.8,488.5 872.3,487.0 872.8,485.6 873.3,484.2 873.8,482.8 874.3,481.4 874.8,480.0 875.3,478.6 875.8,477.2 876.3,475.7 876.8,474.3 877.3,472.9 877.8,471.5 878.3,470.1 878.8,468.7 879.3,467.2 879.7,465.8 880.2,464.4 880.6,462.9 881.0,461.5 881.5,460.1 882.0,458.6 882.5,457.2 883.0,455.8 883.6,454.4 884.2,453.1 884.7,451.7 885.4,450.3 886.0,449.0 886.7,447.6 887.4,446.3 888.1,445.0 888.9,443.7 889.7,442.4 890.5,441.2 891.4,440.0 892.3,438.8 893.3,437.7 894.5,436.7 895.7,435.9 897.0,435.1 898.3,434.5 899.7,433.9 901.1,433.5 902.6,433.0 904.0,432.7 905.5,432.4 907.0,432.3 908.5,432.2 910.0,432.3 911.4,432.6 912.9,433.0 914.3,433.5 915.7,434.1 917.0,434.7 918.4,435.3 919.7,436.0 921.1,436.7 922.4,437.4 923.7,438.2 925.0,438.9 926.2,439.7 927.5,440.5 928.8,441.3 930.0,442.1 931.3,442.9 932.5,443.8 933.8,444.6 935.0,445.4 936.3,446.3 937.5,447.1 938.8,447.9 940.0,448.7 941.3,449.5 942.7,450.2 944.0,450.9 945.3,451.6 946.7,452.2 948.1,452.7 949.5,453.1 951.0,453.5 952.5,453.8 953.9,454.0 955.4,454.1 956.9,454.2 958.4,454.3 959.9,454.3 961.4,454.2 962.9,454.1 964.4,453.9 965.9,453.6 967.3,453.3 968.8,452.9 970.2,452.4 971.6,451.9 973.0,451.4 974.4,450.7 975.7,450.1 977.1,449.4 978.4,448.7 979.7,447.9 980.9,447.1 982.2,446.2 983.4,445.4 984.6,444.5 985.8,443.6 987.0,442.7 988.2,441.8 989.4,440.9 990.6,440.0 991.8,439.0 992.9,438.1 994.1,437.1 995.2,436.2 996.3,435.2 997.5,434.2 998.6,433.2 999.7,432.2 1000.8,431.2 1001.9,430.2 1003.0,429.1 1004.1,428.1 1005.2,427.1 1006.3,426.1 1007.4,425.0 1008.4,424.0 1009.5,422.9 1010.6,421.8 1011.6,420.8 1012.7,419.7 1013.7,418.6 1014.7,417.5 1015.8,416.4 1016.8,415.4 1017.8,414.3 1018.8,413.1 1019.8,412.0 1020.8,410.9 1021.8,409.8 1022.8,408.6 1023.8,407.5 1024.8,406.4 1025.8,405.3 1026.8,404.2 1027.8,403.1 1028.9,402.0 1030.0,401.0 1031.0,399.9 1032.1,398.9 1033.2,397.8 1034.3,396.8 1035.4,395.8 1036.5,394.8 1037.7,393.8 1038.8,392.9 1040.0,392.0 1041.2,391.1 1042.4,390.2 1043.7,389.4 1045.0,388.6 1046.3,387.9 1047.6,387.2 1048.9,386.5 1050.3,385.8 1051.7,385.2 1053.0,384.6 1054.4,384.1 1055.9,383.7 1057.3,383.3 1058.8,383.1 1060.3,382.9 1061.8,382.8 1063.3,382.8 1064.8,382.9 1066.3,383.1 1067.7,383.3 1069.2,383.7 1070.6,384.2 1072.0,384.8 1073.3,385.5 1074.6,386.3 1075.8,387.1 1076.9,388.1 1078.0,389.1 1079.1,390.2 1080.1,391.3 1081.2,392.4 1082.2,393.4 1083.2,394.5 1084.3,395.6 1085.3,396.7 1086.3,397.8 1087.3,398.9 1088.3,400.0 1089.3,401.1 1090.3,402.3 1091.3,403.4 1092.2,404.6 1093.2,405.8 1094.1,406.9 1095.0,408.2 1095.8,409.4 1096.6,410.7 1097.4,412.0 1098.1,413.3 1098.8,414.6 1099.6,415.9 1100.4,417.2 1101.1,418.4 1101.9,419.7 1102.8,421.0 1103.6,422.2 1104.5,423.4 1105.3,424.6 1106.2,425.9 1107.1,427.1 1108.0,428.3 1108.8,429.5 1109.7,430.8 1110.5,432.0 1111.3,433.3 1112.1,434.6 1112.9,435.8 1113.6,437.1 1114.3,438.5 1115.0,439.8 1115.6,441.2 1116.2,442.5 1116.8,443.9 1117.4,445.3 1117.9,446.7 1118.5,448.1 1119.0,449.5 1119.5,450.9 1120.0,452.3 1120.5,453.7 1121.0,455.2 1121.6,456.6 1122.1,458.0 1122.6,459.4 1123.1,460.8 1123.6,462.2 1124.1,463.6 1124.6,465.0 1125.0,466.5 1125.5,467.9 1126.0,469.3 1126.5,470.7 1127.0,472.2 1127.4,473.6 1127.9,475.0 1128.4,476.4 1128.8,477.8 1129.3,479.3 1129.8,480.7 1130.2,482.1 1130.7,483.6 1131.1,485.0 1131.6,486.4 1132.1,487.8 1132.5,489.3 1133.0,490.7 1133.4,492.1 1133.9,493.6 1134.4,495.0 1134.8,496.4 1135.3,497.8 1135.8,499.3 1136.2,500.7 1136.7,502.1 1137.2,503.5 1137.6,505.0 1138.1,506.4 1138.6,507.8 1139.1,509.2 1139.5,510.6 1140.0,512.1 1140.5,513.5 1141.0,514.9 1141.5,516.3 1142.0,517.7 1142.5,519.1 1143.1,520.5 1143.6,522.0 1144.1,523.4 1144.6,524.8 1145.1,526.2 1145.7,527.6 1146.2,529.0 1146.7,530.4 1147.2,531.8 1147.8,533.2 1148.4,534.6 1148.9,536.0 1149.5,537.4 1150.0,538.7 1150.5,540.2 1151.0,541.6 1151.4,543.0 1151.9,544.5 1152.3,545.9 1152.7,547.4 1153.1,548.8 1153.5,550.2 1153.9,551.7 1154.3,553.1 1154.7,554.6 1155.1,556.0 1155.5,557.4 1156.0,558.9 1156.4,560.3 1156.8,561.8 1157.2,563.2 1157.6,564.6 1158.1,566.1 1158.5,567.5 1158.9,569.0 1159.4,570.4 1159.8,571.8 1160.2,573.3 1160.7,574.7 1161.1,576.1 1161.5,577.6 1162.0,579.0 1162.4,580.4 1162.8,581.9 1163.3,583.3 1163.7,584.8 1164.1,586.2 1164.5,587.6 1164.9,589.1 1165.3,590.5 1165.7,592.0 1166.1,593.4 1166.5,594.9 1166.9,596.3 1167.3,597.8 1167.7,599.2 1168.1,600.7 1168.4,602.1 1168.8,603.6 1169.2,605.0 1169.6,606.5 1169.9,607.9 1170.3,609.4 1170.7,610.8 1171.1,612.3 1171.4,613.7 1171.8,615.2 1172.2,616.6 1172.5,618.1 1172.9,619.6 1173.3,621.0 1173.6,622.5 1174.0,623.9 1174.3,625.4 1174.7,626.8 1175.1,628.3 1175.4,629.8 1175.8,631.2 1176.1,632.7 1176.5,634.1 1176.9,635.6 1177.2,637.0 1177.6,638.5 1178.0,639.9 1178.4,641.4 1178.7,642.8 1179.1,644.3 1179.5,645.7 1179.9,647.2 1180.3,648.6 1180.6,650.1 1181.0,651.5 1181.4,653.0 1181.8,654.4 1182.2,655.9 1182.6,657.3 1183.0,658.8 1183.4,660.2 1183.8,661.7 1184.3,663.1 1184.7,664.5 1185.1,666.0 1185.6,667.4 1186.0,668.8 1186.5,670.2 1187.0,671.7 1187.5,673.1 1188.0,674.5 1188.5,675.9 1189.1,677.3 1189.6,678.7 1190.1,680.1 1190.7,681.5 1191.3,682.9 1191.8,684.3 1192.4,685.7 1193.0,687.1 1193.5,688.5 1193.9,689.9 1194.4,691.3 1194.8,692.8 1195.2,694.2 1195.6,695.6 1196.0,697.1 1196.3,698.6 1196.7,700.0 1197.0,701.5 1197.4,702.9 1197.7,704.4 1198.1,705.9 1198.4,707.3 1198.8,708.8 1199.1,710.2 1199.4,711.7 1199.8,713.2 1200.2,714.6 1200.5,716.1 1200.9,717.5 1201.3,719.0 1201.6,720.4 1202.0,721.9 1202.4,723.3 1202.7,724.8 1203.1,726.2 1203.5,727.7 1203.9,729.1 1204.2,730.6 1204.6,732.1 1204.9,733.5 1205.3,735.0 1205.7,736.4 1206.0,737.9 1206.4,739.3 1206.7,740.8 1207.0,742.3 1207.3,743.7 1207.6,745.2 1207.9,746.7 1208.2,748.1 1208.5,749.6 1208.8,751.1 1209.1,752.6 1209.4,754.0 1209.7,755.5 1210.0,757.0 1210.3,758.4 1210.6,759.9 1210.9,761.4 1211.3,762.8 1211.6,764.3 1211.9,765.8 1212.3,767.2 1212.7,768.7 1213.0,770.1 1213.4,771.6 1213.8,773.0 1214.2,774.5 1214.6,775.9 1215.0,777.4 1215.4,778.8 1215.8,780.2 1216.2,781.7 1216.6,783.1 1217.1,784.6 1217.5,786.0 1217.9,787.5 1218.3,788.9 1218.7,790.4 1219.1,791.8 1219.5,793.2 1219.9,794.7 1220.3,796.1 1220.7,797.6 1221.1,799.0 1221.5,800.5 1221.9,801.9 1222.3,803.3 1222.7,804.8 1223.1,806.2 1223.5,807.7 1223.9,809.1 1224.3,810.6 1224.7,812.0 1225.1,813.5 1225.5,814.9 1225.8,816.4 1226.2,817.8 1226.5,819.3 1226.8,820.8 1227.1,822.2 1227.5,823.7 1227.8,825.2 1228.1,826.6 1228.4,828.1 1228.7,829.6 1229.0,831.0 1229.3,832.5 1229.6,834.0 1229.9,835.4 1230.3,836.9 1230.6,838.4 1231.0,839.8 1231.3,841.3 1231.7,842.7 1232.1,844.2 1232.5,845.6 1232.9,847.1 1233.3,848.5 1233.7,850.0 1234.1,851.4 1234.5,852.9 1234.9,854.3 1235.3,855.7 1235.7,857.2 1236.1,858.6 1236.6,860.1 1237.0,861.5 1237.4,863.0 1237.8,864.4 1238.2,865.8 1238.6,867.3 1239.0,868.7 1239.3,870.2 1239.7,871.6 1240.1,873.1 1240.5,874.5 1240.9,876.0 1241.2,877.4 1241.6,878.9 1242.0,880.3 1242.4,881.8 1242.8,883.2 1243.2,884.7 1243.6,886.1 1244.0,887.6 1244.5,889.0 1244.9,890.4 1245.4,891.9 1245.8,893.3 1246.3,894.7 1246.8,896.1 1247.2,897.6 1247.7,899.0 1248.2,900.4 1248.7,901.8 1249.2,903.2 1249.7,904.6 1250.2,906.1 1250.7,907.5 1251.2,908.9 1251.7,910.3 1252.3,911.7 1252.8,913.1 1253.3,914.5 1253.8,915.9 1254.3,917.3 1254.9,918.7 1255.4,920.1 1255.9,921.5 1256.5,922.9 1257.0,924.3 1257.6,925.7 1258.1,927.1 1258.6,928.5 1259.2,929.9 1259.7,931.3 1260.3,932.7 1260.8,934.1 1261.4,935.5 1262.0,936.9 1262.5,938.3 1263.1,939.7 1263.6,941.1 1264.2,942.5 1264.7,943.9 1265.3,945.3 1265.9,946.6 1266.4,948.0 1267.0,949.4 1267.6,950.8 1268.1,952.2 1268.7,953.6 1269.3,955.0 1269.9,956.4 1270.4,957.7 1271.0,959.1 1271.5,960.5 1272.1,961.9 1272.6,963.3 1273.2,964.7 1273.7,966.1 1274.2,967.6 1274.6,969.0 1275.1,970.4 1275.5,971.8 1276.0,973.3 1276.4,974.7 1276.8,976.1 1277.3,977.6 1277.8,979.0 1278.4,980.4 1279.0,981.7 1279.6,983.1 1280.3,984.4 1281.0,985.8 1281.7,987.1 1282.4,988.4 1283.0,989.8 1283.7,991.1 1284.3,992.5 1284.9,993.9 1285.5,995.2 1286.1,996.6 1286.7,998.0 1287.4,999.3 1288.0,1000.7 1288.6,1002.1 1289.3,1003.4 1289.9,1004.8 1290.6,1006.1 1291.2,1007.5 1291.9,1008.8 1292.6,1010.1 1293.3,1011.5 1293.9,1012.8 1294.6,1014.1 1295.3,1015.5 1296.1,1016.8 1296.8,1018.1 1297.5,1019.4 1298.3,1020.7 1299.1,1022.0 1299.9,1023.3 1300.6,1024.5 1301.4,1025.8 1302.2,1027.1 1303.1,1028.3 1303.9,1029.6 1304.7,1030.8 1305.5,1032.1 1306.4,1033.3 1307.2,1034.6 1308.1,1035.8 1309.0,1037.0 1309.8,1038.2 1310.7,1039.4 1311.6,1040.7 1312.5,1041.9 1313.4,1043.0 1314.4,1044.2 1315.3,1045.4 1316.3,1046.5 1317.3,1047.7 1318.3,1048.8 1319.3,1049.9 1320.3,1051.0 1321.3,1052.1 1322.4,1053.1 1323.5,1054.2 1324.6,1055.2 1325.7,1056.1 1326.9,1057.0 1328.2,1057.9 1329.4,1058.7 1330.7,1059.5 1332.0,1060.3 1333.3,1061.0 1334.6,1061.7 1335.9,1062.4 1337.3,1063.1 1338.6,1063.8 1339.9,1064.4 1341.3,1065.1 1342.7,1065.7 1344.0,1066.3 1345.4,1066.9 1346.8,1067.4 1348.2,1068.0 1349.6,1068.5 1351.0,1069.0 1352.5,1069.4 1353.9,1069.9 1355.3,1070.3 1356.8,1070.7 1358.2,1071.1 1359.7,1071.5 1361.1,1071.8 1362.6,1072.2 1364.1,1072.6 1365.5,1072.9 1367.0,1073.3 1368.4,1073.6 1369.9,1074.0 1371.4,1074.3 1372.8,1074.6 1374.3,1074.9 1375.8,1075.2 1377.2,1075.5 1378.7,1075.8 1380.2,1076.0 1381.7,1076.3 1383.1,1076.5 1384.6,1076.7 1386.1,1076.9 1387.6,1077.0 1389.1,1077.2 1390.6,1077.3 1392.1,1077.4 1393.6,1077.5 1395.1,1077.6 1396.6,1077.7 1398.1,1077.8 1399.6,1077.9 1401.1,1078.0 1402.6,1078.1 1404.1,1078.3 1405.6,1078.4 1407.0,1078.6 1408.5,1078.9 1410.0,1079.1 1411.5,1079.3 1413.0,1079.6 1414.5,1079.7 1415.9,1079.9 1417.4,1080.0 1418.9,1080.1 1420.4,1080.2 1421.9,1080.3 1423.4,1080.3 1424.9,1080.3 1426.4,1080.4 1427.9,1080.4 1429.4,1080.4 1430.9,1080.4 1432.4,1080.4 1433.9,1080.3 1435.4,1080.3 1436.9,1080.3 1438.4,1080.3 1439.9,1080.3 1441.4,1080.3 1442.9,1080.2 1444.4,1080.2 1445.9,1080.2 1447.4,1080.2 1448.9,1080.2 1450.4,1080.2 1451.9,1080.2 1453.4,1080.2 1454.9,1080.2 1456.4,1080.2 1457.9,1080.2 1459.4,1080.2 1460.9,1080.2 1462.4,1080.2 1463.9,1080.2 1465.4,1080.2 1466.9,1080.2 1468.4,1080.2 1469.9,1080.2 1471.4,1080.2 1472.9,1080.2 1474.4,1080.2 1475.9,1080.2 1477.4,1080.2 1478.9,1080.2 1480.4,1080.2 1481.9,1080.2 1483.4,1080.2 1484.9,1080.2 1486.4,1080.2 1487.9,1080.2 1489.4,1080.2 1490.9,1080.2 1492.4,1080.2 1493.9,1080.2 1495.4,1080.2 1496.9,1080.2 1498.4,1080.2 1499.9,1080.2 1501.4,1080.2 1502.9,1080.2 1504.4,1080.2 1505.9,1080.2 1507.4,1080.2 1508.9,1080.2 1510.4,1080.2 1511.9,1080.2 1513.4,1080.2 1514.9,1080.2 1516.4,1080.2 1517.9,1080.2 1519.4,1080.2 1520.9,1080.2 1522.4,1080.2 1523.9,1080.2 1525.4,1080.2 1526.9,1080.2 1528.4,1080.2 1529.9,1080.2 1531.4,1080.2 1532.9,1080.2 1534.4,1080.2 1535.9,1080.2 1537.4,1080.2 1538.9,1080.2 1540.4,1080.2 1541.9,1080.2 1543.4,1080.2 1544.9,1080.2 1546.4,1080.2 1547.9,1080.2 1549.4,1080.2 1550.9,1080.2 1552.4,1080.2 1553.9,1080.2 1555.4,1080.2 1556.9,1080.1 1558.4,1080.1 1559.9,1080.1 1561.4,1080.1 1562.9,1080.0 1564.4,1080.0 1565.9,1080.0 1567.4,1080.0 1568.9,1079.9 1570.4,1079.9 1571.9,1079.9 1573.4,1079.9 1574.9,1079.9 1576.4,1079.9 1577.9,1080.0 1579.4,1080.0 1580.9,1080.1 1582.4,1080.3 1583.9,1080.6 1585.3,1081.0 1586.8,1081.4 1588.2,1081.8 1589.7,1082.1 1591.2,1082.3 1592.6,1082.4 1594.1,1082.5 1595.6,1082.5 1597.1,1082.5 1598.6,1082.5 1600.1,1082.5 1601.6,1082.5 1603.1,1082.5 1604.6,1082.5 1606.1,1082.5 1607.6,1082.5 1609.1,1082.4 1610.6,1082.4 1612.1,1082.4 1613.6,1082.4 1615.1,1082.4 1616.6,1082.3 1618.1,1082.3 1619.6,1082.3 1621.0,1082.3 1622.1,1082.3"/>
</g>
<g font-family="Liberation Sans, sans-serif" font-size="46" fill="#000" stroke="#000" stroke-width="0.5">
<text transform="scale(0.860,1)" x="275.83" y="1098.5">0</text>
<text transform="scale(0.860,1)" x="156.86 186.60 216.34 246.09 275.83" y="956.6">10000</text>
<text transform="scale(0.860,1)" x="156.86 186.60 216.34 246.09 275.83" y="814.8">20000</text>
<text transform="scale(0.860,1)" x="156.86 186.60 216.34 246.09 275.83" y="672.9">30000</text>
<text transform="scale(0.860,1)" x="156.86 186.60 216.34 246.09 275.83" y="531.0">40000</text>
<text transform="scale(0.860,1)" x="156.86 186.60 216.34 246.09 275.83" y="389.1">50000</text>
<text transform="scale(0.860,1)" x="156.86 186.60 216.34 246.09 275.83" y="247.3">60000</text>
<text transform="scale(0.860,1)" x="156.86 186.60 216.34 246.09 275.83" y="105.4">70000</text>
<text transform="scale(0.860,1)" x="361.54 391.28 421.02" y="1156.5">250</text>
<text transform="scale(0.860,1)" x="484.70 514.44 544.18" y="1156.5">300</text>
<text transform="scale(0.860,1)" x="607.85 637.59 667.34" y="1156.5">350</text>
<text transform="scale(0.860,1)" x="731.01 760.75 790.49" y="1156.5">400</text>
<text transform="scale(0.860,1)" x="854.17 883.91 913.65" y="1156.5">450</text>
<text transform="scale(0.860,1)" x="977.32 1007.07 1036.81" y="1156.5">500</text>
<text transform="scale(0.860,1)" x="1100.48 1130.22 1159.96" y="1156.5">550</text>
<text transform="scale(0.860,1)" x="1223.64 1253.38 1283.12" y="1156.5">600</text>
<text transform="scale(0.860,1)" x="1346.79 1376.54 1406.28" y="1156.5">650</text>
<text transform="scale(0.860,1)" x="1469.95 1499.69 1529.44" y="1156.5">700</text>
<text transform="scale(0.860,1)" x="1593.11 1622.85 1652.59" y="1156.5">750</text>
<text transform="scale(0.860,1)" x="1716.27 1746.01 1775.75" y="1156.5">800</text>
<text transform="scale(0.860,1)" x="1839.42 1869.16 1898.91" y="1156.5">850</text>
</g>
<text transform="translate(958,1243.7) scale(0.964,1)" text-anchor="middle" font-family="Liberation Sans, sans-serif" font-size="58">Wavelength(nm)</text>
<text transform="translate(71.2,752.4) rotate(-90)" font-family="Liberation Sans, sans-serif" font-size="57"><tspan font-size="46">ε</tspan><tspan dx="0 0 -0.5 -0.6"> (dm</tspan><tspan font-size="33" dy="-26" dx="-1.8">3</tspan><tspan dy="26" dx="0.4 -0.3 -2.7 0.1">/mol</tspan><tspan font-size="33" dy="-26" dx="0.8 -0.7">-1</tspan><tspan dy="21 5" dx="1.2 0 -3 1.3">· cm</tspan><tspan font-size="33" dy="-26" dx="-1 -3">-1</tspan><tspan dy="26" dx="3">)</tspan></text>
<rect x="1113" y="45.5" width="419" height="217.5" fill="none" stroke="#000" stroke-width="2"/>
<line x1="1119" y1="84.4" x2="1247" y2="84.4" stroke="#000" stroke-width="6"/>
<text transform="translate(1260.5,102.2) scale(0.944,1)" font-family="Liberation Sans, sans-serif" font-weight="bold" font-size="58">II-T8-IDM</text>
<line x1="1119" y1="154.2" x2="1247" y2="154.2" stroke="#f00" stroke-width="6"/>
<text transform="translate(1260.5,172.2) scale(0.944,1)" font-family="Liberation Sans, sans-serif" font-weight="bold" font-size="58">II-T8-IDM5</text>
<line x1="1119" y1="223.9" x2="1247" y2="223.9" stroke="#00f" stroke-width="6"/>
<text transform="translate(1260.5,242.2) scale(0.944,1)" font-family="Liberation Sans, sans-serif" font-weight="bold" font-size="58">II-T8-IDM6</text>
</svg>
</body></html>
